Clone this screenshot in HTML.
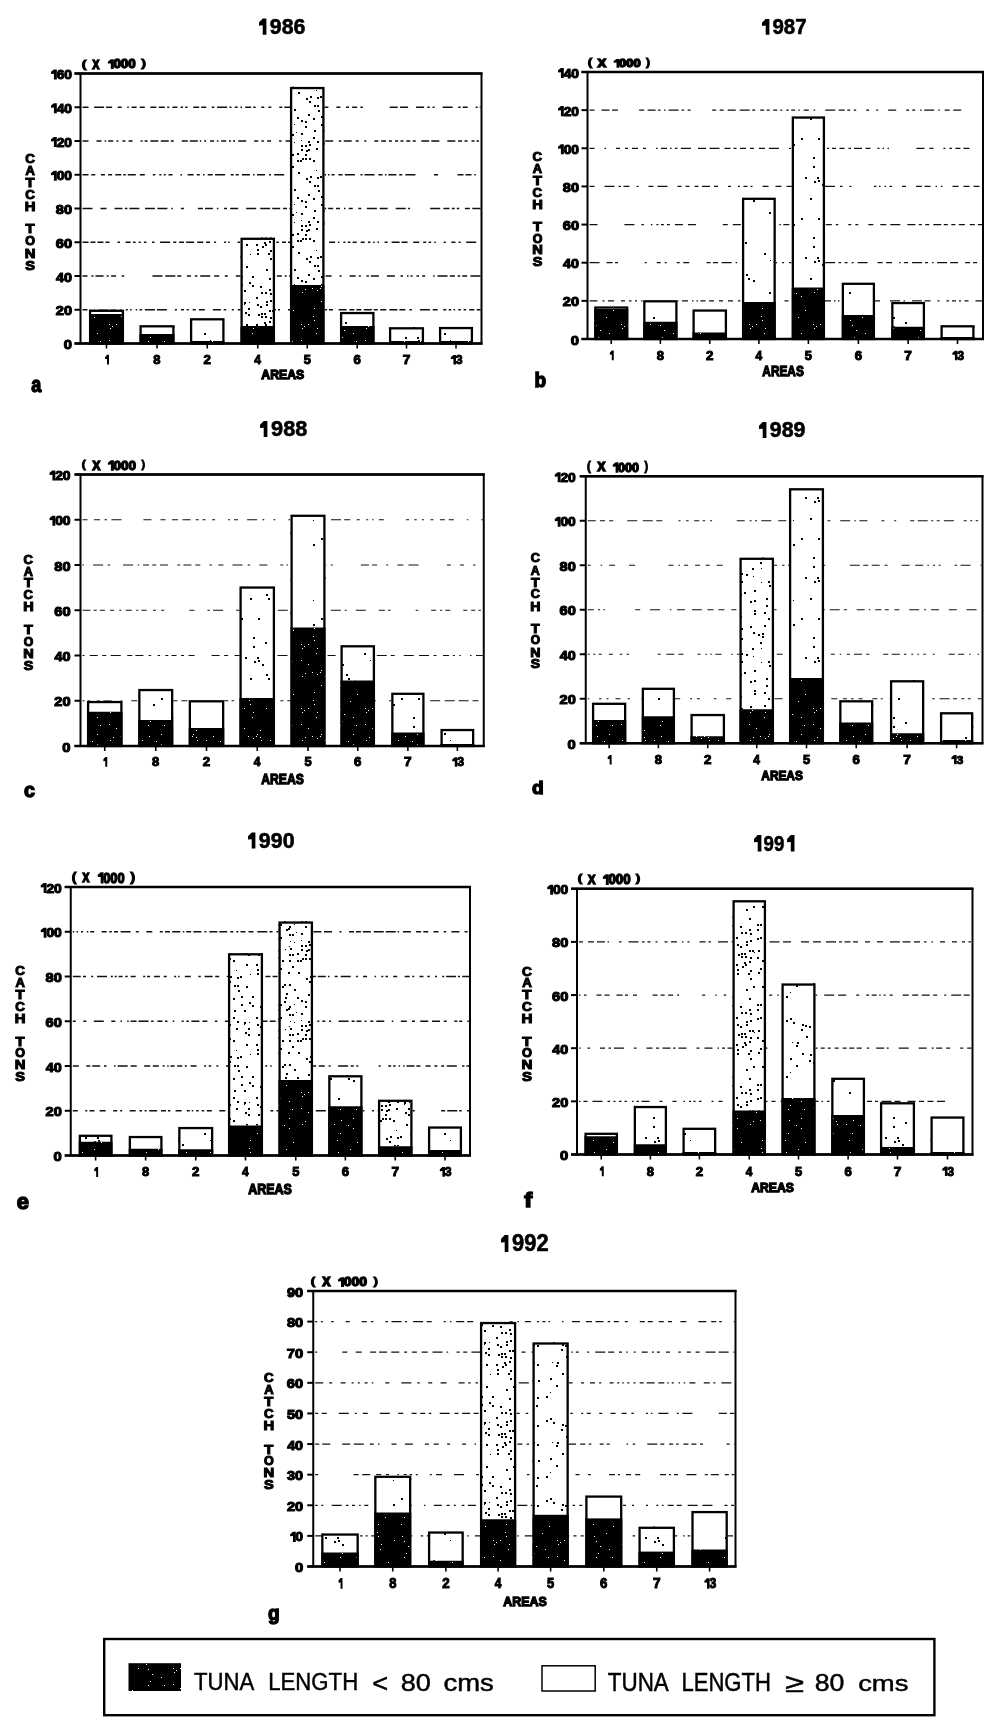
<!DOCTYPE html>
<html><head><meta charset="utf-8"><style>
html,body{margin:0;padding:0;background:#fff;}
svg{display:block;font-family:"Liberation Sans",sans-serif;filter:grayscale(1);}
</style></head><body>
<svg width="1000" height="1725" viewBox="0 0 1000 1725">
<defs><pattern id="sparse" width="80" height="80" patternUnits="userSpaceOnUse"><rect x="25" y="2" width="2" height="2" fill="#000"/><rect x="13" y="6" width="2" height="2" fill="#000"/><rect x="44" y="13" width="2" height="2" fill="#000"/><rect x="5" y="17" width="2" height="2" fill="#000"/><rect x="17" y="17" width="2" height="2" fill="#000"/><rect x="14" y="21" width="2" height="2" fill="#000"/><rect x="18" y="20" width="2" height="2" fill="#000"/><rect x="50" y="20" width="1" height="1" fill="#000"/><rect x="22" y="24" width="2" height="2" fill="#000"/><rect x="26" y="34" width="2" height="2" fill="#000"/><rect x="10" y="38" width="2" height="2" fill="#000"/><rect x="28" y="38" width="2" height="2" fill="#000"/><rect x="33" y="40" width="2" height="2" fill="#000"/><rect x="73" y="40" width="1" height="1" fill="#000"/><rect x="49" y="52" width="2" height="2" fill="#000"/><rect x="1" y="58" width="2" height="2" fill="#000"/><rect x="18" y="58" width="2" height="2" fill="#000"/><rect x="73" y="64" width="2" height="2" fill="#000"/><rect x="13" y="77" width="2" height="2" fill="#000"/></pattern><pattern id="medium" width="80" height="80" patternUnits="userSpaceOnUse"><rect x="40" y="2" width="2" height="2" fill="#000"/><rect x="53" y="2" width="2" height="2" fill="#000"/><rect x="72" y="2" width="1" height="1" fill="#000"/><rect x="77" y="2" width="2" height="2" fill="#000"/><rect x="57" y="4" width="2" height="2" fill="#000"/><rect x="76" y="5" width="2" height="2" fill="#000"/><rect x="32" y="8" width="2" height="2" fill="#000"/><rect x="41" y="8" width="1" height="1" fill="#000"/><rect x="2" y="13" width="2" height="2" fill="#000"/><rect x="10" y="14" width="2" height="2" fill="#000"/><rect x="17" y="13" width="2" height="2" fill="#000"/><rect x="21" y="13" width="2" height="2" fill="#000"/><rect x="26" y="14" width="2" height="2" fill="#000"/><rect x="33" y="16" width="1" height="1" fill="#000"/><rect x="70" y="18" width="2" height="2" fill="#000"/><rect x="9" y="20" width="2" height="2" fill="#000"/><rect x="13" y="22" width="2" height="2" fill="#000"/><rect x="21" y="21" width="2" height="2" fill="#000"/><rect x="41" y="22" width="1" height="1" fill="#000"/><rect x="48" y="21" width="2" height="2" fill="#000"/><rect x="52" y="20" width="2" height="2" fill="#000"/><rect x="58" y="20" width="2" height="2" fill="#000"/><rect x="49" y="25" width="2" height="2" fill="#000"/><rect x="76" y="25" width="2" height="2" fill="#000"/><rect x="34" y="30" width="2" height="2" fill="#000"/><rect x="20" y="34" width="2" height="2" fill="#000"/><rect x="24" y="32" width="2" height="2" fill="#000"/><rect x="70" y="32" width="1" height="1" fill="#000"/><rect x="46" y="38" width="2" height="2" fill="#000"/><rect x="57" y="37" width="2" height="2" fill="#000"/><rect x="66" y="36" width="2" height="2" fill="#000"/><rect x="30" y="41" width="2" height="2" fill="#000"/><rect x="34" y="40" width="2" height="2" fill="#000"/><rect x="46" y="45" width="2" height="2" fill="#000"/><rect x="56" y="45" width="2" height="2" fill="#000"/><rect x="34" y="50" width="2" height="2" fill="#000"/><rect x="34" y="53" width="2" height="2" fill="#000"/><rect x="44" y="52" width="2" height="2" fill="#000"/><rect x="16" y="57" width="2" height="2" fill="#000"/><rect x="20" y="56" width="2" height="2" fill="#000"/><rect x="48" y="58" width="2" height="2" fill="#000"/><rect x="70" y="58" width="2" height="2" fill="#000"/><rect x="66" y="60" width="2" height="2" fill="#000"/><rect x="73" y="62" width="2" height="2" fill="#000"/><rect x="2" y="64" width="2" height="2" fill="#000"/><rect x="5" y="65" width="2" height="2" fill="#000"/><rect x="9" y="66" width="2" height="2" fill="#000"/><rect x="30" y="66" width="2" height="2" fill="#000"/><rect x="44" y="65" width="2" height="2" fill="#000"/><rect x="54" y="65" width="1" height="1" fill="#000"/><rect x="57" y="65" width="2" height="2" fill="#000"/><rect x="1" y="69" width="2" height="2" fill="#000"/><rect x="21" y="68" width="2" height="2" fill="#000"/><rect x="33" y="72" width="2" height="2" fill="#000"/><rect x="38" y="74" width="2" height="2" fill="#000"/><rect x="42" y="73" width="2" height="2" fill="#000"/><rect x="6" y="76" width="2" height="2" fill="#000"/><rect x="17" y="76" width="2" height="2" fill="#000"/><rect x="21" y="78" width="2" height="2" fill="#000"/><rect x="42" y="76" width="2" height="2" fill="#000"/></pattern><pattern id="dense" width="80" height="80" patternUnits="userSpaceOnUse"><rect x="24" y="2" width="2" height="2" fill="#000"/><rect x="29" y="1" width="2" height="2" fill="#000"/><rect x="42" y="0" width="2" height="2" fill="#000"/><rect x="49" y="0" width="2" height="2" fill="#000"/><rect x="57" y="0" width="2" height="2" fill="#000"/><rect x="60" y="0" width="2" height="2" fill="#000"/><rect x="73" y="0" width="2" height="2" fill="#000"/><rect x="6" y="4" width="2" height="2" fill="#000"/><rect x="16" y="4" width="2" height="2" fill="#000"/><rect x="22" y="6" width="2" height="2" fill="#000"/><rect x="25" y="4" width="2" height="2" fill="#000"/><rect x="52" y="6" width="2" height="2" fill="#000"/><rect x="17" y="9" width="2" height="2" fill="#000"/><rect x="30" y="10" width="2" height="2" fill="#000"/><rect x="40" y="8" width="2" height="2" fill="#000"/><rect x="76" y="10" width="1" height="1" fill="#000"/><rect x="10" y="14" width="1" height="1" fill="#000"/><rect x="17" y="13" width="2" height="2" fill="#000"/><rect x="28" y="13" width="2" height="2" fill="#000"/><rect x="38" y="12" width="2" height="2" fill="#000"/><rect x="48" y="12" width="2" height="2" fill="#000"/><rect x="58" y="12" width="2" height="2" fill="#000"/><rect x="0" y="16" width="2" height="2" fill="#000"/><rect x="30" y="18" width="2" height="2" fill="#000"/><rect x="66" y="18" width="2" height="2" fill="#000"/><rect x="70" y="16" width="2" height="2" fill="#000"/><rect x="77" y="17" width="2" height="2" fill="#000"/><rect x="69" y="21" width="2" height="2" fill="#000"/><rect x="6" y="26" width="2" height="2" fill="#000"/><rect x="33" y="26" width="2" height="2" fill="#000"/><rect x="42" y="26" width="2" height="2" fill="#000"/><rect x="44" y="24" width="2" height="2" fill="#000"/><rect x="49" y="24" width="2" height="2" fill="#000"/><rect x="74" y="25" width="2" height="2" fill="#000"/><rect x="77" y="25" width="2" height="2" fill="#000"/><rect x="26" y="29" width="2" height="2" fill="#000"/><rect x="54" y="29" width="2" height="2" fill="#000"/><rect x="78" y="30" width="2" height="2" fill="#000"/><rect x="46" y="33" width="2" height="2" fill="#000"/><rect x="68" y="34" width="2" height="2" fill="#000"/><rect x="1" y="36" width="2" height="2" fill="#000"/><rect x="12" y="36" width="2" height="2" fill="#000"/><rect x="29" y="38" width="2" height="2" fill="#000"/><rect x="45" y="37" width="2" height="2" fill="#000"/><rect x="57" y="37" width="2" height="2" fill="#000"/><rect x="73" y="38" width="2" height="2" fill="#000"/><rect x="9" y="42" width="2" height="2" fill="#000"/><rect x="44" y="41" width="2" height="2" fill="#000"/><rect x="61" y="40" width="2" height="2" fill="#000"/><rect x="65" y="41" width="2" height="2" fill="#000"/><rect x="1" y="44" width="2" height="2" fill="#000"/><rect x="12" y="45" width="2" height="2" fill="#000"/><rect x="20" y="46" width="2" height="2" fill="#000"/><rect x="37" y="44" width="2" height="2" fill="#000"/><rect x="40" y="44" width="2" height="2" fill="#000"/><rect x="49" y="46" width="2" height="2" fill="#000"/><rect x="54" y="44" width="1" height="1" fill="#000"/><rect x="65" y="46" width="2" height="2" fill="#000"/><rect x="4" y="50" width="2" height="2" fill="#000"/><rect x="29" y="49" width="2" height="2" fill="#000"/><rect x="37" y="49" width="2" height="2" fill="#000"/><rect x="46" y="49" width="2" height="2" fill="#000"/><rect x="48" y="48" width="2" height="2" fill="#000"/><rect x="74" y="50" width="2" height="2" fill="#000"/><rect x="21" y="52" width="2" height="2" fill="#000"/><rect x="25" y="52" width="2" height="2" fill="#000"/><rect x="30" y="53" width="2" height="2" fill="#000"/><rect x="49" y="54" width="2" height="2" fill="#000"/><rect x="52" y="54" width="2" height="2" fill="#000"/><rect x="56" y="52" width="1" height="1" fill="#000"/><rect x="61" y="53" width="2" height="2" fill="#000"/><rect x="16" y="57" width="2" height="2" fill="#000"/><rect x="37" y="58" width="2" height="2" fill="#000"/><rect x="40" y="57" width="2" height="2" fill="#000"/><rect x="73" y="57" width="2" height="2" fill="#000"/><rect x="4" y="62" width="2" height="2" fill="#000"/><rect x="9" y="62" width="1" height="1" fill="#000"/><rect x="26" y="61" width="2" height="2" fill="#000"/><rect x="30" y="60" width="2" height="2" fill="#000"/><rect x="50" y="61" width="1" height="1" fill="#000"/><rect x="54" y="62" width="1" height="1" fill="#000"/><rect x="61" y="60" width="1" height="1" fill="#000"/><rect x="68" y="61" width="2" height="2" fill="#000"/><rect x="77" y="61" width="2" height="2" fill="#000"/><rect x="4" y="64" width="1" height="1" fill="#000"/><rect x="17" y="64" width="2" height="2" fill="#000"/><rect x="20" y="66" width="2" height="2" fill="#000"/><rect x="26" y="64" width="2" height="2" fill="#000"/><rect x="49" y="66" width="1" height="1" fill="#000"/><rect x="61" y="65" width="2" height="2" fill="#000"/><rect x="65" y="65" width="2" height="2" fill="#000"/><rect x="69" y="64" width="2" height="2" fill="#000"/><rect x="8" y="68" width="2" height="2" fill="#000"/><rect x="29" y="70" width="2" height="2" fill="#000"/><rect x="32" y="70" width="2" height="2" fill="#000"/><rect x="38" y="70" width="2" height="2" fill="#000"/><rect x="45" y="69" width="1" height="1" fill="#000"/><rect x="50" y="68" width="2" height="2" fill="#000"/><rect x="61" y="69" width="2" height="2" fill="#000"/><rect x="66" y="70" width="2" height="2" fill="#000"/><rect x="68" y="69" width="2" height="2" fill="#000"/><rect x="76" y="68" width="2" height="2" fill="#000"/><rect x="5" y="72" width="2" height="2" fill="#000"/><rect x="8" y="74" width="2" height="2" fill="#000"/><rect x="18" y="74" width="2" height="2" fill="#000"/><rect x="21" y="73" width="2" height="2" fill="#000"/><rect x="24" y="73" width="2" height="2" fill="#000"/><rect x="34" y="72" width="1" height="1" fill="#000"/><rect x="49" y="74" width="2" height="2" fill="#000"/><rect x="52" y="74" width="2" height="2" fill="#000"/><rect x="57" y="73" width="2" height="2" fill="#000"/><rect x="65" y="74" width="2" height="2" fill="#000"/><rect x="21" y="76" width="2" height="2" fill="#000"/><rect x="25" y="76" width="2" height="2" fill="#000"/><rect x="30" y="77" width="2" height="2" fill="#000"/><rect x="37" y="77" width="2" height="2" fill="#000"/><rect x="62" y="78" width="2" height="2" fill="#000"/><rect x="65" y="78" width="2" height="2" fill="#000"/><rect x="69" y="78" width="2" height="2" fill="#000"/></pattern><pattern id="dark" width="64" height="64" patternUnits="userSpaceOnUse"><rect width="64" height="64" fill="#000"/><rect x="18" y="0" width="1" height="1" fill="#fff"/><rect x="58" y="0" width="1" height="1" fill="#fff"/><rect x="10" y="4" width="1" height="1" fill="#fff"/><rect x="20" y="5" width="1" height="1" fill="#fff"/><rect x="45" y="4" width="1" height="1" fill="#fff"/><rect x="48" y="6" width="1" height="1" fill="#fff"/><rect x="52" y="4" width="1" height="1" fill="#fff"/><rect x="24" y="10" width="1" height="1" fill="#fff"/><rect x="46" y="8" width="1" height="1" fill="#fff"/><rect x="61" y="8" width="1" height="1" fill="#fff"/><rect x="33" y="13" width="1" height="1" fill="#fff"/><rect x="60" y="13" width="1" height="1" fill="#fff"/><rect x="22" y="17" width="1" height="1" fill="#fff"/><rect x="20" y="21" width="1" height="1" fill="#fff"/><rect x="36" y="21" width="1" height="1" fill="#fff"/><rect x="45" y="20" width="1" height="1" fill="#fff"/><rect x="4" y="26" width="1" height="1" fill="#fff"/><rect x="52" y="24" width="1" height="1" fill="#fff"/><rect x="1" y="30" width="1" height="1" fill="#fff"/><rect x="33" y="30" width="1" height="1" fill="#fff"/><rect x="0" y="32" width="1" height="1" fill="#fff"/><rect x="4" y="33" width="1" height="1" fill="#fff"/><rect x="21" y="32" width="1" height="1" fill="#fff"/><rect x="49" y="33" width="1" height="1" fill="#fff"/><rect x="56" y="32" width="1" height="1" fill="#fff"/><rect x="61" y="34" width="1" height="1" fill="#fff"/><rect x="5" y="36" width="1" height="1" fill="#fff"/><rect x="14" y="36" width="1" height="1" fill="#fff"/><rect x="28" y="37" width="1" height="1" fill="#fff"/><rect x="46" y="36" width="1" height="1" fill="#fff"/><rect x="33" y="40" width="1" height="1" fill="#fff"/><rect x="1" y="45" width="1" height="1" fill="#fff"/><rect x="20" y="45" width="1" height="1" fill="#fff"/><rect x="17" y="52" width="1" height="1" fill="#fff"/><rect x="37" y="54" width="1" height="1" fill="#fff"/><rect x="58" y="52" width="1" height="1" fill="#fff"/><rect x="30" y="61" width="1" height="1" fill="#fff"/><rect x="57" y="60" width="1" height="1" fill="#fff"/></pattern></defs>
<rect width="1000" height="1725" fill="#fff"/>
<line x1="82.5" y1="309.75" x2="480.5" y2="309.75" stroke="#111" stroke-width="1.4" stroke-dasharray="5 2.4 1.5 2.0 2 2.8 10 2.4 6 3.2 2 4.0 2 2.4 1.5 4.0 1.5 2.4 2.5 2.8 10 2.0 10 8.0 2 4.0 3 2.8 2 4.0 3 3.2 6 8.0 8 2.8 2.5 5.6 2 4.0 8 2.8 4 4.0 2 4.0 5 2.4 6 2.0 2 8.0 5 2.8 8 4.0 2 8.0 4 3.2 2 2.0 4 5.6 8 2.8 5 2.0 5 2.4 8 2.0 4 2.4 6 3.2 8 2.0 6 4.0 2.5 8.0 10 2.8 5 5.6 3 2.4 2.5 2.4 1.5 3.2 2.5 2.8 2.5 3.2 5 2.4 10 4.0 1.5 3.2 10 3.2 6 2.0 6 2.0 3 3.2 5 4.0 1.5 4.0 2 2.8 2 8.0 6 2.4"/>
<line x1="82.5" y1="276.00" x2="480.5" y2="276.00" stroke="#111" stroke-width="1.4" stroke-dasharray="5 4.0 2 2.0 8 3.2 2 2.4 5 5.6 2.5 28.3 10 2.8 10 2.0 4 5.6 4 4.0 2.5 2.8 10 4.0 5 5.6 3 8.0 6 5.6 3 4.0 1.5 2.0 8 2.8 5 3.2 5 2.8 2 2.4 5 2.4 1.5 3.2 5 8.0 2 3.2 3 3.2 6 8.0 2 8.0 6 3.2 2 5.6 2.5 2.0 8 8.0 8 5.6 2.5 4.0 1.5 2.0 2 4.0 2.5 3.2 3 8.0 1.5 2.8 10 2.4 5 2.8 2.5 2.0 5 3.2 10 3.2 10 2.4 10 20.6 2.5 26.0 2.5 2.4 2 4.0 10 4.0 2 4.0 3 2.8 2 4.0 1.5 8.0 2 3.2 10 4.0 4 3.2 8 4.0 10 2.8 3 8.0"/>
<line x1="82.5" y1="242.25" x2="480.5" y2="242.25" stroke="#111" stroke-width="1.4" stroke-dasharray="6 2.0 5 2.0 6 2.0 4 8.0 2.5 5.6 5 2.4 2.5 3.2 2 3.2 2.5 5.6 2.5 5.6 10 3.2 3 2.8 5 2.0 8 3.2 6 2.8 4 4.0 2 8.0 2 2.0 1.5 8.0 2.5 8.0 4 3.2 10 4.0 5 2.0 2.5 3.2 4 2.0 4 2.0 3 2.0 2 28.1 6 2.8 1.5 4.0 2 2.4 2.5 2.4 4 4.0 4 3.2 2.5 2.8 1.5 2.8 1.5 5.6 3 4.0 8 2.0 6 5.6 6 4.0 3 2.4 2.5 3.2 1.5 8.0 2 5.6 4 3.2 2 5.6 10 5.6 3 5.6 8 2.4 8 2.0 5 4.0 1.5 2.8 2.5 2.0 2 3.2 3 2.4 1.5 2.0 2 2.4 1.5 17.8 3 2.0"/>
<line x1="82.5" y1="208.50" x2="480.5" y2="208.50" stroke="#111" stroke-width="1.4" stroke-dasharray="10 8.0 6 8.0 8 2.4 2.5 2.0 10 5.6 10 2.4 10 4.0 1.5 8.0 3 14.0 5 2.0 8 4.0 1.5 5.6 3 3.2 8 8.0 10 4.0 10 2.0 8 2.8 4 2.4 3 2.4 8 3.2 2 3.2 4 8.0 3 2.0 5 2.8 4 4.0 1.5 3.2 4 5.6 3 5.6 10 2.8 8 8.0 10 2.4 2 20.1 10 3.2 6 2.4 3 2.0 2.5 5.6 5 2.4 10 2.8 5 2.4 8 13.3 8 5.6 4 5.6 5 3.2 5 2.0 5 8.0 3 26.7 4 2.8 6 8.0 5 3.2 1.5 2.8 4 5.6 3 2.8 5 2.4 6 2.0 6 4.0 2 2.0 6 3.2 2.5 5.6 8 2.0 10 2.4"/>
<line x1="82.5" y1="174.75" x2="480.5" y2="174.75" stroke="#111" stroke-width="1.4" stroke-dasharray="6 2.8 4 5.6 4 3.2 4 3.2 6 2.0 2.5 2.0 8 4.0 5 8.0 2.5 4.0 2 2.4 2 2.8 4 8.0 1.5 5.6 6 3.2 3 3.2 1.5 3.2 5 2.4 10 5.6 3 2.0 3 3.2 8 3.2 1.5 2.4 8 4.0 2 3.2 10 8.0 8 2.4 3 2.4 2 8.0 8 2.0 1.5 2.0 3 4.0 4 2.4 10 5.6 2 2.0 10 4.0 4 2.4 1.5 2.0 8 2.8 3 3.2 10 18.6 4 19.5 6 2.0 6 2.8 1.5 5.6 6 2.8 3 2.0 10 2.0 3 2.8 3 2.4 4 8.0 2 4.0 2.5 2.4 1.5 4.0 6 2.0 2.5 3.2 1.5 2.4 5 5.6 2 2.4 2.5 5.6 8 2.0"/>
<line x1="82.5" y1="141.00" x2="480.5" y2="141.00" stroke="#111" stroke-width="1.4" stroke-dasharray="6 8.0 5 3.2 1.5 2.0 5 3.2 2 4.0 3 3.2 4 8.0 2 2.0 3 2.8 8 2.4 8 2.0 3 8.0 6 2.0 8 2.0 1.5 2.8 2 4.0 4 2.8 1.5 2.8 5 2.8 2 2.0 2 3.2 8 8.0 4 3.2 2.5 3.2 4 8.0 2.5 4.0 5 3.2 2 4.0 2.5 2.4 1.5 3.2 5 2.4 2 2.0 2 2.4 8 5.6 2.5 2.4 8 4.0 3 5.6 2 8.0 4 2.8 5 2.8 3 3.2 3 2.4 3 2.8 4 2.4 3 5.6 8 2.0 8 8.0 8 2.8 4 2.4 3 4.0 3 2.0 2.5 3.2 1.5 2.0 5 2.4 5 2.4 4 2.0 3 22.9 5 2.4 2 19.8 8 2.0"/>
<line x1="82.5" y1="107.25" x2="480.5" y2="107.25" stroke="#111" stroke-width="1.4" stroke-dasharray="6 5.6 10 2.0 6 5.6 4 5.6 1.5 2.8 5 3.2 5 5.6 6 2.4 6 2.4 2 3.2 5 3.2 2.5 2.0 2.5 5.6 6 2.0 5 5.6 2.5 2.8 10 2.4 2 3.2 3 2.8 1.5 3.2 6 2.0 2.5 5.6 3 4.0 3 8.0 3 2.0 10 2.4 2 2.4 3 2.0 1.5 5.6 2 3.2 10 8.0 4 5.6 3 3.2 5 3.2 2.5 26.8 8 2.4 8 8.0 8 3.2 2.5 2.8 2 8.0 10 5.6 2.5 2.0 5 8.0 2 2.0 6 5.6 2.5 2.0 2 2.4 8 2.8 2.5 5.6 3 2.0 4 2.4 4 8.0 4 4.0 8 2.4 10 2.4 1.5 2.4 2.5 5.6 5 3.2 4 2.0 1.5 5.6"/>
<rect x="89.00" y="309.50" width="35.00" height="34.00" fill="#fff"/>
<rect x="89.00" y="309.50" width="35.00" height="4.50" fill="url(#sparse)"/>
<rect x="89.00" y="314.00" width="35.00" height="29.50" fill="url(#dark)"/>
<rect x="90.10" y="310.80" width="32.80" height="32.70" fill="none" stroke="#000" stroke-width="2.3"/>
<rect x="139.50" y="325.00" width="35.00" height="18.50" fill="#fff"/>
<rect x="139.50" y="325.00" width="35.00" height="9.00" fill="url(#sparse)"/>
<rect x="139.50" y="334.00" width="35.00" height="9.50" fill="url(#dark)"/>
<rect x="140.60" y="326.30" width="32.80" height="17.20" fill="none" stroke="#000" stroke-width="2.3"/>
<rect x="190.00" y="318.00" width="34.50" height="25.50" fill="#fff"/>
<rect x="190.00" y="318.00" width="34.50" height="23.00" fill="url(#sparse)"/>
<rect x="190.00" y="341.00" width="34.50" height="2.50" fill="url(#dark)"/>
<rect x="191.10" y="319.30" width="32.30" height="24.20" fill="none" stroke="#000" stroke-width="2.3"/>
<rect x="240.50" y="237.50" width="34.50" height="106.00" fill="#fff"/>
<rect x="240.50" y="237.50" width="34.50" height="88.50" fill="url(#dense)"/>
<rect x="240.50" y="326.00" width="34.50" height="17.50" fill="url(#dark)"/>
<rect x="241.60" y="238.80" width="32.30" height="104.70" fill="none" stroke="#000" stroke-width="2.3"/>
<rect x="290.00" y="86.75" width="34.50" height="256.75" fill="#fff"/>
<rect x="290.00" y="86.75" width="34.50" height="198.25" fill="url(#dense)"/>
<rect x="290.00" y="285.00" width="34.50" height="58.50" fill="url(#dark)"/>
<rect x="291.10" y="88.05" width="32.30" height="255.45" fill="none" stroke="#000" stroke-width="2.3"/>
<rect x="340.00" y="311.75" width="34.50" height="31.75" fill="#fff"/>
<rect x="340.00" y="311.75" width="34.50" height="14.25" fill="url(#sparse)"/>
<rect x="340.00" y="326.00" width="34.50" height="17.50" fill="url(#dark)"/>
<rect x="341.10" y="313.05" width="32.30" height="30.45" fill="none" stroke="#000" stroke-width="2.3"/>
<rect x="389.00" y="327.00" width="35.00" height="16.50" fill="#fff"/>
<rect x="389.00" y="327.00" width="35.00" height="14.00" fill="url(#sparse)"/>
<rect x="389.00" y="341.00" width="35.00" height="2.50" fill="url(#dark)"/>
<rect x="390.10" y="328.30" width="32.80" height="15.20" fill="none" stroke="#000" stroke-width="2.3"/>
<rect x="439.00" y="326.75" width="34.00" height="16.75" fill="#fff"/>
<rect x="439.00" y="326.75" width="34.00" height="14.25" fill="url(#sparse)"/>
<rect x="439.00" y="341.00" width="34.00" height="2.50" fill="url(#dark)"/>
<rect x="440.10" y="328.05" width="31.80" height="15.45" fill="none" stroke="#000" stroke-width="2.3"/>
<rect x="80.50" y="73.50" width="401.00" height="270.00" fill="none" stroke="#000" stroke-width="2"/>
<line x1="74.50" y1="343.50" x2="482.50" y2="343.50" stroke="#000" stroke-width="2.6"/>
<line x1="74.50" y1="73.50" x2="482.50" y2="73.50" stroke="#000" stroke-width="2.6"/>
<line x1="74.50" y1="343.50" x2="80.50" y2="343.50" stroke="#000" stroke-width="2"/>
<text x="63.87" y="349.02" font-size="13.14" font-weight="bold" textLength="8.19" lengthAdjust="spacingAndGlyphs" fill="#000" stroke="#000" stroke-width="1.1" >0</text>
<line x1="74.50" y1="309.75" x2="80.50" y2="309.75" stroke="#000" stroke-width="2"/>
<text x="55.85" y="315.27" font-size="13.14" font-weight="bold" textLength="16.20" lengthAdjust="spacingAndGlyphs" fill="#000" stroke="#000" stroke-width="1.1" >20</text>
<line x1="74.50" y1="276.00" x2="80.50" y2="276.00" stroke="#000" stroke-width="2"/>
<text x="56.13" y="281.52" font-size="13.14" font-weight="bold" textLength="15.90" lengthAdjust="spacingAndGlyphs" fill="#000" stroke="#000" stroke-width="1.1" >40</text>
<line x1="74.50" y1="242.25" x2="80.50" y2="242.25" stroke="#000" stroke-width="2"/>
<text x="55.82" y="247.77" font-size="13.14" font-weight="bold" textLength="16.23" lengthAdjust="spacingAndGlyphs" fill="#000" stroke="#000" stroke-width="1.1" >60</text>
<line x1="74.50" y1="208.50" x2="80.50" y2="208.50" stroke="#000" stroke-width="2"/>
<text x="55.89" y="214.02" font-size="13.14" font-weight="bold" textLength="16.16" lengthAdjust="spacingAndGlyphs" fill="#000" stroke="#000" stroke-width="1.1" >80</text>
<line x1="74.50" y1="174.75" x2="80.50" y2="174.75" stroke="#000" stroke-width="2"/>
<path d="M53.92,170.68 L56.82,170.68 L56.82,180.82 L53.92,180.82 L53.92,174.94 L51.03,175.14 L51.03,173.12 Z" fill="#000"/>
<text x="56.66" y="180.27" font-size="13.14" font-weight="bold" textLength="7.68" lengthAdjust="spacingAndGlyphs" fill="#000" stroke="#000" stroke-width="1.1">0</text>
<text x="64.34" y="180.27" font-size="13.14" font-weight="bold" textLength="7.68" lengthAdjust="spacingAndGlyphs" fill="#000" stroke="#000" stroke-width="1.1">0</text>
<line x1="74.50" y1="141.00" x2="80.50" y2="141.00" stroke="#000" stroke-width="2"/>
<path d="M53.92,136.93 L56.82,136.93 L56.82,147.07 L53.92,147.07 L53.92,141.19 L51.03,141.39 L51.03,139.37 Z" fill="#000"/>
<text x="56.66" y="146.52" font-size="13.14" font-weight="bold" textLength="7.68" lengthAdjust="spacingAndGlyphs" fill="#000" stroke="#000" stroke-width="1.1">2</text>
<text x="64.34" y="146.52" font-size="13.14" font-weight="bold" textLength="7.68" lengthAdjust="spacingAndGlyphs" fill="#000" stroke="#000" stroke-width="1.1">0</text>
<line x1="74.50" y1="107.25" x2="80.50" y2="107.25" stroke="#000" stroke-width="2"/>
<path d="M53.92,103.18 L56.82,103.18 L56.82,113.32 L53.92,113.32 L53.92,107.44 L51.03,107.64 L51.03,105.62 Z" fill="#000"/>
<text x="56.66" y="112.77" font-size="13.14" font-weight="bold" textLength="7.68" lengthAdjust="spacingAndGlyphs" fill="#000" stroke="#000" stroke-width="1.1">4</text>
<text x="64.34" y="112.77" font-size="13.14" font-weight="bold" textLength="7.68" lengthAdjust="spacingAndGlyphs" fill="#000" stroke="#000" stroke-width="1.1">0</text>
<line x1="74.50" y1="73.50" x2="80.50" y2="73.50" stroke="#000" stroke-width="2"/>
<path d="M53.92,69.43 L56.82,69.43 L56.82,79.57 L53.92,79.57 L53.92,73.69 L51.03,73.89 L51.03,71.87 Z" fill="#000"/>
<text x="56.66" y="79.02" font-size="13.14" font-weight="bold" textLength="7.68" lengthAdjust="spacingAndGlyphs" fill="#000" stroke="#000" stroke-width="1.1">6</text>
<text x="64.34" y="79.02" font-size="13.14" font-weight="bold" textLength="7.68" lengthAdjust="spacingAndGlyphs" fill="#000" stroke="#000" stroke-width="1.1">0</text>
<line x1="106.50" y1="343.50" x2="106.50" y2="348.50" stroke="#000" stroke-width="1.6"/>
<path d="M107.04,354.80 L109.00,354.80 L109.00,364.60 L107.04,364.60 L107.04,358.92 L105.07,359.11 L105.07,357.15 Z" fill="#000"/>
<line x1="157.00" y1="343.50" x2="157.00" y2="348.50" stroke="#000" stroke-width="1.6"/>
<text x="153.39" y="363.98" font-size="12.43" font-weight="bold" textLength="7.21" lengthAdjust="spacingAndGlyphs" fill="#000" stroke="#000" stroke-width="1.0" >8</text>
<line x1="207.25" y1="343.50" x2="207.25" y2="348.50" stroke="#000" stroke-width="1.6"/>
<text x="203.59" y="364.10" font-size="12.60" font-weight="bold" textLength="7.39" lengthAdjust="spacingAndGlyphs" fill="#000" stroke="#000" stroke-width="1.0" >2</text>
<line x1="257.75" y1="343.50" x2="257.75" y2="348.50" stroke="#000" stroke-width="1.6"/>
<text x="254.37" y="364.10" font-size="12.79" font-weight="bold" textLength="6.65" lengthAdjust="spacingAndGlyphs" fill="#000" stroke="#000" stroke-width="1.0" >4</text>
<line x1="307.25" y1="343.50" x2="307.25" y2="348.50" stroke="#000" stroke-width="1.6"/>
<text x="303.65" y="363.98" font-size="12.61" font-weight="bold" textLength="7.15" lengthAdjust="spacingAndGlyphs" fill="#000" stroke="#000" stroke-width="1.0" >5</text>
<line x1="357.25" y1="343.50" x2="357.25" y2="348.50" stroke="#000" stroke-width="1.6"/>
<text x="353.57" y="363.98" font-size="12.43" font-weight="bold" textLength="7.36" lengthAdjust="spacingAndGlyphs" fill="#000" stroke="#000" stroke-width="1.0" >6</text>
<line x1="406.50" y1="343.50" x2="406.50" y2="348.50" stroke="#000" stroke-width="1.6"/>
<text x="402.71" y="364.10" font-size="12.79" font-weight="bold" textLength="7.59" lengthAdjust="spacingAndGlyphs" fill="#000" stroke="#000" stroke-width="1.0" >7</text>
<line x1="456.00" y1="343.50" x2="456.00" y2="348.50" stroke="#000" stroke-width="1.6"/>
<path d="M453.41,354.93 L455.99,354.93 L455.99,364.46 L453.41,364.46 L453.41,358.93 L450.83,359.12 L450.83,357.22 Z" fill="#000"/>
<text x="455.84" y="363.96" font-size="12.40" font-weight="bold" textLength="6.81" lengthAdjust="spacingAndGlyphs" fill="#000" stroke="#000" stroke-width="1.0">3</text>
<path d="M262.70,18.50 L266.40,18.50 L266.40,34.75 L262.70,34.75 L262.70,25.32 L259.00,25.65 L259.00,22.40 Z" fill="#000"/>
<text x="269.83" y="34.23" font-size="22.10" font-weight="bold" textLength="11.88" lengthAdjust="spacingAndGlyphs" fill="#000" stroke="#000" stroke-width="0.6">9</text>
<text x="281.71" y="34.23" font-size="22.10" font-weight="bold" textLength="11.88" lengthAdjust="spacingAndGlyphs" fill="#000" stroke="#000" stroke-width="0.6">8</text>
<text x="293.59" y="34.23" font-size="22.10" font-weight="bold" textLength="11.88" lengthAdjust="spacingAndGlyphs" fill="#000" stroke="#000" stroke-width="0.6">6</text>
<text x="81.79" y="67.78" font-size="11.16" font-weight="bold" textLength="4.72" lengthAdjust="spacingAndGlyphs" fill="#000" stroke="#000" stroke-width="1.0" >(</text>
<text x="92.51" y="68.80" font-size="12.79" font-weight="bold" textLength="6.78" lengthAdjust="spacingAndGlyphs" fill="#000" stroke="#000" stroke-width="1.6" >X</text>
<path d="M110.82,59.32 L113.78,59.32 L113.78,69.08 L110.82,69.08 L110.82,63.42 L107.86,63.62 L107.86,61.67 Z" fill="#000"/>
<text x="113.46" y="68.38" font-size="12.15" font-weight="bold" textLength="7.40" lengthAdjust="spacingAndGlyphs" fill="#000" stroke="#000" stroke-width="1.4">0</text>
<text x="120.85" y="68.38" font-size="12.15" font-weight="bold" textLength="7.40" lengthAdjust="spacingAndGlyphs" fill="#000" stroke="#000" stroke-width="1.4">0</text>
<text x="128.25" y="68.38" font-size="12.15" font-weight="bold" textLength="7.40" lengthAdjust="spacingAndGlyphs" fill="#000" stroke="#000" stroke-width="1.4">0</text>
<text x="141.29" y="66.74" font-size="11.37" font-weight="bold" textLength="4.72" lengthAdjust="spacingAndGlyphs" fill="#000" stroke="#000" stroke-width="1.0" >)</text>
<text x="31.17" y="392.09" font-size="21.17" font-weight="bold" textLength="10.01" lengthAdjust="spacingAndGlyphs" fill="#000" stroke="#000" stroke-width="1.4" >a</text>
<text x="261.34" y="379.12" font-size="13.14" font-weight="bold" textLength="42.99" lengthAdjust="spacingAndGlyphs" fill="#000" stroke="#000" stroke-width="1.3" >AREAS</text>
<text x="25.20" y="162.52" font-size="12.85" font-weight="bold" textLength="9.61" lengthAdjust="spacingAndGlyphs" fill="#000" stroke="#000" stroke-width="1.1" >C</text>
<text x="25.43" y="174.75" font-size="13.23" font-weight="bold" textLength="9.36" lengthAdjust="spacingAndGlyphs" fill="#000" stroke="#000" stroke-width="1.1" >A</text>
<text x="25.58" y="186.85" font-size="13.23" font-weight="bold" textLength="9.02" lengthAdjust="spacingAndGlyphs" fill="#000" stroke="#000" stroke-width="1.1" >T</text>
<text x="25.20" y="198.82" font-size="12.85" font-weight="bold" textLength="9.61" lengthAdjust="spacingAndGlyphs" fill="#000" stroke="#000" stroke-width="1.1" >C</text>
<text x="24.76" y="211.05" font-size="13.23" font-weight="bold" textLength="10.69" lengthAdjust="spacingAndGlyphs" fill="#000" stroke="#000" stroke-width="1.1" >H</text>
<text x="25.58" y="233.15" font-size="13.23" font-weight="bold" textLength="9.02" lengthAdjust="spacingAndGlyphs" fill="#000" stroke="#000" stroke-width="1.1" >T</text>
<text x="25.24" y="245.32" font-size="12.85" font-weight="bold" textLength="9.74" lengthAdjust="spacingAndGlyphs" fill="#000" stroke="#000" stroke-width="1.1" >O</text>
<text x="24.76" y="257.75" font-size="13.23" font-weight="bold" textLength="10.69" lengthAdjust="spacingAndGlyphs" fill="#000" stroke="#000" stroke-width="1.1" >N</text>
<text x="25.33" y="269.92" font-size="12.85" font-weight="bold" textLength="9.69" lengthAdjust="spacingAndGlyphs" fill="#000" stroke="#000" stroke-width="1.1" >S</text>
<line x1="589.5" y1="300.86" x2="982.0" y2="300.86" stroke="#111" stroke-width="1.3" stroke-dasharray="8 5.0 2 3.5 6 7.0 4 4.0 2.5 3.5 2 4.0 1.5 3.5 4 3.5 5 17.5 2.5 3.5 6 4.0 1.5 3.0 1.5 2.5 5 3.5 5 5.0 4 5.0 5 5.0 2.5 25.0 2.5 4.0 2.5 10.0 4 4.0 1.5 2.5 10 3.5 8 5.0 8 3.0 1.5 2.5 1.5 4.0 2.5 2.5 2 2.5 3 3.0 10 5.0 6 10.0 10 3.5 1.5 7.0 10 2.5 6 7.0 2 7.0 2.5 3.0 4 3.0 2 3.5 4 7.0 10 7.0 10 3.5 3 2.5 1.5 3.0 3 10.0 2.5 7.0 3 4.0 3 4.0 10 4.0 10 17.4 3 5.0 3 4.0 2 5.0 2.5 14.1 2.5 3.5 1.5 2.5 1.5 7.0 1.5 2.5 5 3.0"/>
<line x1="589.5" y1="262.71" x2="982.0" y2="262.71" stroke="#111" stroke-width="1.3" stroke-dasharray="10 7.0 6 2.5 3 26.7 2 10.0 4 4.0 2 10.0 3 3.5 6 17.4 4 2.5 5 3.5 10 4.0 1.5 10.0 6 5.0 5 4.0 10 5.0 2 5.0 2.5 17.0 1.5 2.5 2 4.0 2.5 4.0 10 3.5 2.5 3.5 3 4.0 2 4.0 10 10.0 5 3.5 6 7.0 1.5 3.5 4 4.0 10 3.0 3 4.0 1.5 3.5 10 3.0 8 7.0 5 3.0 4 5.0 5 4.0 3 5.0 4 10.0 2.5 7.0 3 7.0 10 3.5 5 3.0 2 3.0 2 3.0 2.5 10.0 4 4.0 2 7.0 4 3.0 8 25.3 6 7.0 4 17.9 6 2.5 6 7.0 6 10.0 3 7.0 2 4.0 4 7.0 6 3.0 2.5 3.5"/>
<line x1="589.5" y1="224.57" x2="982.0" y2="224.57" stroke="#111" stroke-width="1.3" stroke-dasharray="8 26.9 10 7.0 2.5 7.0 1.5 4.0 2 2.5 3 3.0 3 5.0 8 5.0 8 26.9 5 5.0 8 3.0 2.5 4.0 2 7.0 5 7.0 4 4.0 1.5 2.5 6 7.0 5 5.0 3 3.5 10 3.0 6 4.0 2.5 10.0 3 4.0 3 10.0 5 7.0 6 4.0 10 7.0 8 3.5 3 3.5 4 4.0 8 2.5 4 3.5 4 3.5 6 5.0 5 3.0 6 2.5 5 10.0 10 10.0 1.5 31.3 4 3.5 2.5 10.0 8 3.5 3 4.0 2.5 5.0 2 7.0 10 10.0 4 3.0 3 5.0 8 7.0 10 2.5 3 10.0 8 5.0 8 3.0 3 4.0 1.5 3.0 8 7.0 4 10.0 6 4.0 2 3.0 1.5 2.5"/>
<line x1="589.5" y1="186.43" x2="982.0" y2="186.43" stroke="#111" stroke-width="1.3" stroke-dasharray="5 10.0 10 4.0 2.5 2.5 6 7.0 2 10.0 5 4.0 10 10.0 4 4.0 4 5.0 4 3.5 8 4.0 4 10.0 3 7.0 2 3.5 4 3.0 2 10.0 6 7.0 6 5.0 6 3.5 1.5 3.0 8 5.0 1.5 10.0 10 5.0 2.5 7.0 2 22.5 2.5 2.5 1.5 4.0 1.5 3.5 2.5 10.0 4 10.0 6 2.5 6 5.0 1.5 4.0 1.5 10.0 6 5.0 6 4.0 6 5.0 2.5 4.0 10 2.5 8 3.0 1.5 24.3 2 10.0 2 3.0 4 7.0 8 7.0 1.5 3.5 2.5 7.0 4 7.0 8 4.0 4 2.5 1.5 22.3 2 4.0 2.5 10.0 1.5 3.5 8 4.0 2.5 10.0 2.5 7.0 8 4.0 8 3.5 5 3.5"/>
<line x1="589.5" y1="148.29" x2="982.0" y2="148.29" stroke="#111" stroke-width="1.3" stroke-dasharray="5 10.0 1.5 10.0 4 5.0 3 4.0 6 5.0 3 10.0 1.5 3.5 6 3.0 1.5 3.5 2.5 3.5 10 7.0 8 3.5 10 5.0 6 3.0 3 3.5 6 4.0 4 5.0 6 4.0 10 10.0 2 3.0 10 3.5 10 3.5 3 3.0 2 3.0 4 3.5 5 4.0 2.5 3.0 8 3.5 5 7.0 2 3.0 1.5 3.5 1.5 27.4 8 5.0 4 10.0 2 4.0 2.5 3.5 5 3.0 6 13.0 5 10.0 8 10.0 2 10.0 6 2.5 2 3.5 3 7.0 10 4.0 2.5 3.5 3 16.8 5 2.5 1.5 10.0 4 10.0 8 2.5 5 23.0 4 5.0 2 4.0 4 4.0 8 4.0 3 10.0 1.5 4.0 3 33.9 3 2.5"/>
<line x1="589.5" y1="110.14" x2="982.0" y2="110.14" stroke="#111" stroke-width="1.3" stroke-dasharray="5 7.0 8 2.5 6 21.1 5 3.5 8 2.5 2.5 3.5 1.5 3.0 10 3.0 2.5 3.5 3 21.6 4 3.5 4 4.0 8 4.0 10 2.5 3 5.0 4 2.5 3 3.5 4 3.0 2 4.0 2.5 2.5 4 3.0 1.5 4.0 5 5.0 1.5 10.0 10 3.5 6 2.5 3 3.5 2.5 10.0 3 7.0 2 10.0 8 10.0 3 3.0 3 5.0 1.5 2.5 10 4.0 1.5 5.0 5 3.5 8 26.2 8 3.0 4 3.0 5 2.5 5 5.0 1.5 3.5 8 5.0 5 7.0 5 10.0 6 5.0 1.5 3.5 8 4.0 10 10.0 1.5 3.0 3 5.0 2 3.5 1.5 2.5 3 22.5 8 5.0 8 2.5 2 7.0 4 2.5 10 10.0"/>
<rect x="594.25" y="306.25" width="34.00" height="32.75" fill="#fff"/>
<rect x="594.25" y="306.25" width="34.00" height="2.75" fill="url(#sparse)"/>
<rect x="594.25" y="309.00" width="34.00" height="30.00" fill="url(#dark)"/>
<rect x="595.35" y="307.55" width="31.80" height="31.45" fill="none" stroke="#000" stroke-width="2.3"/>
<rect x="643.25" y="300.00" width="34.25" height="39.00" fill="#fff"/>
<rect x="643.25" y="300.00" width="34.25" height="21.75" fill="url(#sparse)"/>
<rect x="643.25" y="321.75" width="34.25" height="17.25" fill="url(#dark)"/>
<rect x="644.35" y="301.30" width="32.05" height="37.70" fill="none" stroke="#000" stroke-width="2.3"/>
<rect x="692.50" y="309.25" width="34.50" height="29.75" fill="#fff"/>
<rect x="692.50" y="309.25" width="34.50" height="23.25" fill="url(#sparse)"/>
<rect x="692.50" y="332.50" width="34.50" height="6.50" fill="url(#dark)"/>
<rect x="693.60" y="310.55" width="32.30" height="28.45" fill="none" stroke="#000" stroke-width="2.3"/>
<rect x="742.00" y="197.50" width="33.75" height="141.50" fill="#fff"/>
<rect x="742.00" y="197.50" width="33.75" height="104.50" fill="url(#sparse)"/>
<rect x="742.00" y="302.00" width="33.75" height="37.00" fill="url(#dark)"/>
<rect x="743.10" y="198.80" width="31.55" height="140.20" fill="none" stroke="#000" stroke-width="2.3"/>
<rect x="791.75" y="116.25" width="33.25" height="222.75" fill="#fff"/>
<rect x="791.75" y="116.25" width="33.25" height="171.25" fill="url(#sparse)"/>
<rect x="791.75" y="287.50" width="33.25" height="51.50" fill="url(#dark)"/>
<rect x="792.85" y="117.55" width="31.05" height="221.45" fill="none" stroke="#000" stroke-width="2.3"/>
<rect x="841.75" y="282.50" width="33.25" height="56.50" fill="#fff"/>
<rect x="841.75" y="282.50" width="33.25" height="32.50" fill="url(#sparse)"/>
<rect x="841.75" y="315.00" width="33.25" height="24.00" fill="url(#dark)"/>
<rect x="842.85" y="283.80" width="31.05" height="55.20" fill="none" stroke="#000" stroke-width="2.3"/>
<rect x="891.25" y="301.75" width="33.75" height="37.25" fill="#fff"/>
<rect x="891.25" y="301.75" width="33.75" height="25.00" fill="url(#sparse)"/>
<rect x="891.25" y="326.75" width="33.75" height="12.25" fill="url(#dark)"/>
<rect x="892.35" y="303.05" width="31.55" height="35.95" fill="none" stroke="#000" stroke-width="2.3"/>
<rect x="940.50" y="325.00" width="34.00" height="14.00" fill="#fff"/>
<rect x="940.50" y="325.00" width="34.00" height="12.00" fill="url(#sparse)"/>
<rect x="940.50" y="337.00" width="34.00" height="2.00" fill="url(#dark)"/>
<rect x="941.60" y="326.30" width="31.80" height="12.70" fill="none" stroke="#000" stroke-width="2.3"/>
<rect x="587.50" y="72.00" width="395.50" height="267.00" fill="none" stroke="#000" stroke-width="2"/>
<line x1="581.50" y1="339.00" x2="984.00" y2="339.00" stroke="#000" stroke-width="2.6"/>
<line x1="581.50" y1="72.00" x2="984.00" y2="72.00" stroke="#000" stroke-width="2.6"/>
<line x1="581.50" y1="339.00" x2="587.50" y2="339.00" stroke="#000" stroke-width="2"/>
<text x="570.87" y="344.52" font-size="13.14" font-weight="bold" textLength="8.19" lengthAdjust="spacingAndGlyphs" fill="#000" stroke="#000" stroke-width="1.1" >0</text>
<line x1="581.50" y1="300.86" x2="587.50" y2="300.86" stroke="#000" stroke-width="2"/>
<text x="562.85" y="306.38" font-size="13.14" font-weight="bold" textLength="16.20" lengthAdjust="spacingAndGlyphs" fill="#000" stroke="#000" stroke-width="1.1" >20</text>
<line x1="581.50" y1="262.71" x2="587.50" y2="262.71" stroke="#000" stroke-width="2"/>
<text x="563.13" y="268.24" font-size="13.14" font-weight="bold" textLength="15.90" lengthAdjust="spacingAndGlyphs" fill="#000" stroke="#000" stroke-width="1.1" >40</text>
<line x1="581.50" y1="224.57" x2="587.50" y2="224.57" stroke="#000" stroke-width="2"/>
<text x="562.82" y="230.09" font-size="13.14" font-weight="bold" textLength="16.23" lengthAdjust="spacingAndGlyphs" fill="#000" stroke="#000" stroke-width="1.1" >60</text>
<line x1="581.50" y1="186.43" x2="587.50" y2="186.43" stroke="#000" stroke-width="2"/>
<text x="562.89" y="191.95" font-size="13.14" font-weight="bold" textLength="16.16" lengthAdjust="spacingAndGlyphs" fill="#000" stroke="#000" stroke-width="1.1" >80</text>
<line x1="581.50" y1="148.29" x2="587.50" y2="148.29" stroke="#000" stroke-width="2"/>
<path d="M560.92,144.22 L563.82,144.22 L563.82,154.36 L560.92,154.36 L560.92,148.48 L558.03,148.68 L558.03,146.65 Z" fill="#000"/>
<text x="563.66" y="153.81" font-size="13.14" font-weight="bold" textLength="7.68" lengthAdjust="spacingAndGlyphs" fill="#000" stroke="#000" stroke-width="1.1">0</text>
<text x="571.34" y="153.81" font-size="13.14" font-weight="bold" textLength="7.68" lengthAdjust="spacingAndGlyphs" fill="#000" stroke="#000" stroke-width="1.1">0</text>
<line x1="581.50" y1="110.14" x2="587.50" y2="110.14" stroke="#000" stroke-width="2"/>
<path d="M560.92,106.08 L563.82,106.08 L563.82,116.21 L560.92,116.21 L560.92,110.34 L558.03,110.54 L558.03,108.51 Z" fill="#000"/>
<text x="563.66" y="115.66" font-size="13.14" font-weight="bold" textLength="7.68" lengthAdjust="spacingAndGlyphs" fill="#000" stroke="#000" stroke-width="1.1">2</text>
<text x="571.34" y="115.66" font-size="13.14" font-weight="bold" textLength="7.68" lengthAdjust="spacingAndGlyphs" fill="#000" stroke="#000" stroke-width="1.1">0</text>
<line x1="581.50" y1="72.00" x2="587.50" y2="72.00" stroke="#000" stroke-width="2"/>
<path d="M560.92,67.93 L563.82,67.93 L563.82,78.07 L560.92,78.07 L560.92,72.19 L558.03,72.39 L558.03,70.37 Z" fill="#000"/>
<text x="563.66" y="77.52" font-size="13.14" font-weight="bold" textLength="7.68" lengthAdjust="spacingAndGlyphs" fill="#000" stroke="#000" stroke-width="1.1">4</text>
<text x="571.34" y="77.52" font-size="13.14" font-weight="bold" textLength="7.68" lengthAdjust="spacingAndGlyphs" fill="#000" stroke="#000" stroke-width="1.1">0</text>
<line x1="611.25" y1="339.00" x2="611.25" y2="344.00" stroke="#000" stroke-width="1.6"/>
<path d="M611.79,350.50 L613.75,350.50 L613.75,360.30 L611.79,360.30 L611.79,354.62 L609.82,354.81 L609.82,352.85 Z" fill="#000"/>
<line x1="660.38" y1="339.00" x2="660.38" y2="344.00" stroke="#000" stroke-width="1.6"/>
<text x="656.76" y="359.68" font-size="12.43" font-weight="bold" textLength="7.21" lengthAdjust="spacingAndGlyphs" fill="#000" stroke="#000" stroke-width="1.0" >8</text>
<line x1="709.75" y1="339.00" x2="709.75" y2="344.00" stroke="#000" stroke-width="1.6"/>
<text x="706.09" y="359.80" font-size="12.60" font-weight="bold" textLength="7.39" lengthAdjust="spacingAndGlyphs" fill="#000" stroke="#000" stroke-width="1.0" >2</text>
<line x1="758.88" y1="339.00" x2="758.88" y2="344.00" stroke="#000" stroke-width="1.6"/>
<text x="755.49" y="359.80" font-size="12.79" font-weight="bold" textLength="6.65" lengthAdjust="spacingAndGlyphs" fill="#000" stroke="#000" stroke-width="1.0" >4</text>
<line x1="808.38" y1="339.00" x2="808.38" y2="344.00" stroke="#000" stroke-width="1.6"/>
<text x="804.78" y="359.68" font-size="12.61" font-weight="bold" textLength="7.15" lengthAdjust="spacingAndGlyphs" fill="#000" stroke="#000" stroke-width="1.0" >5</text>
<line x1="858.38" y1="339.00" x2="858.38" y2="344.00" stroke="#000" stroke-width="1.6"/>
<text x="854.69" y="359.68" font-size="12.43" font-weight="bold" textLength="7.36" lengthAdjust="spacingAndGlyphs" fill="#000" stroke="#000" stroke-width="1.0" >6</text>
<line x1="908.12" y1="339.00" x2="908.12" y2="344.00" stroke="#000" stroke-width="1.6"/>
<text x="904.34" y="359.80" font-size="12.79" font-weight="bold" textLength="7.59" lengthAdjust="spacingAndGlyphs" fill="#000" stroke="#000" stroke-width="1.0" >7</text>
<line x1="957.50" y1="339.00" x2="957.50" y2="344.00" stroke="#000" stroke-width="1.6"/>
<path d="M954.91,350.63 L957.49,350.63 L957.49,360.16 L954.91,360.16 L954.91,354.63 L952.33,354.82 L952.33,352.92 Z" fill="#000"/>
<text x="957.34" y="359.66" font-size="12.40" font-weight="bold" textLength="6.81" lengthAdjust="spacingAndGlyphs" fill="#000" stroke="#000" stroke-width="1.0">3</text>
<path d="M765.70,19.00 L769.40,19.00 L769.40,34.75 L765.70,34.75 L765.70,25.61 L762.00,25.93 L762.00,22.78 Z" fill="#000"/>
<text x="772.41" y="34.24" font-size="21.40" font-weight="bold" textLength="11.40" lengthAdjust="spacingAndGlyphs" fill="#000" stroke="#000" stroke-width="0.6">9</text>
<text x="783.80" y="34.24" font-size="21.40" font-weight="bold" textLength="11.40" lengthAdjust="spacingAndGlyphs" fill="#000" stroke="#000" stroke-width="0.6">8</text>
<text x="795.20" y="34.24" font-size="21.40" font-weight="bold" textLength="11.40" lengthAdjust="spacingAndGlyphs" fill="#000" stroke="#000" stroke-width="0.6">7</text>
<text x="587.83" y="65.94" font-size="11.37" font-weight="bold" textLength="4.48" lengthAdjust="spacingAndGlyphs" fill="#000" stroke="#000" stroke-width="1.0" >(</text>
<text x="597.89" y="66.80" font-size="11.63" font-weight="bold" textLength="8.22" lengthAdjust="spacingAndGlyphs" fill="#000" stroke="#000" stroke-width="1.6" >X</text>
<path d="M616.51,58.91 L619.41,58.91 L619.41,67.70 L616.51,67.70 L616.51,62.60 L613.62,62.78 L613.62,61.02 Z" fill="#000"/>
<text x="619.07" y="67.00" font-size="10.73" font-weight="bold" textLength="7.19" lengthAdjust="spacingAndGlyphs" fill="#000" stroke="#000" stroke-width="1.4">0</text>
<text x="626.26" y="67.00" font-size="10.73" font-weight="bold" textLength="7.19" lengthAdjust="spacingAndGlyphs" fill="#000" stroke="#000" stroke-width="1.4">0</text>
<text x="633.44" y="67.00" font-size="10.73" font-weight="bold" textLength="7.19" lengthAdjust="spacingAndGlyphs" fill="#000" stroke="#000" stroke-width="1.4">0</text>
<text x="646.09" y="66.10" font-size="11.59" font-weight="bold" textLength="4.01" lengthAdjust="spacingAndGlyphs" fill="#000" stroke="#000" stroke-width="1.0" >)</text>
<text x="534.44" y="386.90" font-size="20.97" font-weight="bold" textLength="11.64" lengthAdjust="spacingAndGlyphs" fill="#000" stroke="#000" stroke-width="1.4" >b</text>
<text x="762.36" y="376.01" font-size="14.83" font-weight="bold" textLength="41.46" lengthAdjust="spacingAndGlyphs" fill="#000" stroke="#000" stroke-width="1.3" >AREAS</text>
<text x="532.61" y="160.52" font-size="12.85" font-weight="bold" textLength="9.50" lengthAdjust="spacingAndGlyphs" fill="#000" stroke="#000" stroke-width="1.1" >C</text>
<text x="532.83" y="172.65" font-size="13.23" font-weight="bold" textLength="9.26" lengthAdjust="spacingAndGlyphs" fill="#000" stroke="#000" stroke-width="1.1" >A</text>
<text x="532.99" y="184.65" font-size="13.23" font-weight="bold" textLength="8.92" lengthAdjust="spacingAndGlyphs" fill="#000" stroke="#000" stroke-width="1.1" >T</text>
<text x="532.61" y="196.52" font-size="12.85" font-weight="bold" textLength="9.50" lengthAdjust="spacingAndGlyphs" fill="#000" stroke="#000" stroke-width="1.1" >C</text>
<text x="532.17" y="208.65" font-size="13.23" font-weight="bold" textLength="10.56" lengthAdjust="spacingAndGlyphs" fill="#000" stroke="#000" stroke-width="1.1" >H</text>
<text x="532.99" y="230.85" font-size="13.23" font-weight="bold" textLength="8.92" lengthAdjust="spacingAndGlyphs" fill="#000" stroke="#000" stroke-width="1.1" >T</text>
<text x="532.64" y="242.52" font-size="12.85" font-weight="bold" textLength="9.63" lengthAdjust="spacingAndGlyphs" fill="#000" stroke="#000" stroke-width="1.1" >O</text>
<text x="532.17" y="254.45" font-size="13.23" font-weight="bold" textLength="10.56" lengthAdjust="spacingAndGlyphs" fill="#000" stroke="#000" stroke-width="1.1" >N</text>
<text x="532.74" y="266.12" font-size="12.85" font-weight="bold" textLength="9.57" lengthAdjust="spacingAndGlyphs" fill="#000" stroke="#000" stroke-width="1.1" >S</text>
<line x1="82.5" y1="700.75" x2="482.8" y2="700.75" stroke="#111" stroke-width="1.2" stroke-dasharray="2 3.2 2.5 6.5 3 3.9 8 9.1 1.5 9.1 6 6.5 10 3.2 1.5 13.0 6 3.9 6 13.0 5 13.0 10 3.2 2.5 9.1 3 13.0 1.5 4.5 2.5 3.2 3 6.5 3 3.9 6 13.0 8 33.8 1.5 3.2 4 9.1 10 13.0 2 4.5 1.5 5.2 1.5 4.5 5 9.1 1.5 6.5 10 4.5 10 3.9 10 3.9 6 6.5 3 9.1 10 4.5 3 9.1 10 9.1 10 4.5 8 13.0 3 4.5 10 6.5 6 3.2 2.5 13.0 5 6.5 4 4.5 3 4.5 1.5 3.9 5 5.2 10 5.2 5 9.1 10 3.9 2.5 5.2 5 3.9 4 13.0 2 9.1 8 4.5 2.5 5.2 1.5 5.2 2 5.2 2.5 5.2 4 13.0"/>
<line x1="82.5" y1="655.50" x2="482.8" y2="655.50" stroke="#111" stroke-width="1.2" stroke-dasharray="2 5.2 8 4.5 4 4.5 10 6.5 5 3.2 8 5.2 2.5 6.5 2.5 5.2 3 3.2 5 4.5 3 4.5 6 17.1 8 4.5 4 6.5 6 6.5 6 5.2 1.5 6.5 8 3.2 10 3.9 5 6.5 10 6.5 3 5.2 8 13.0 5 9.1 2 3.9 5 3.2 10 3.9 4 9.1 10 5.2 10 4.5 3 6.5 6 3.9 2 4.5 1.5 9.1 1.5 4.5 10 3.2 6 13.0 1.5 21.7 10 6.5 10 6.5 3 5.2 2.5 3.9 10 14.4 10 5.2 6 13.0 1.5 9.1 5 3.9 5 4.5 4 9.1 2 4.5 6 3.2 6 6.5 1.5 5.2 3 3.9 2.5 6.5 5 3.2 8 4.5 4 5.2 2 3.9 3 5.2"/>
<line x1="82.5" y1="610.25" x2="482.8" y2="610.25" stroke="#111" stroke-width="1.2" stroke-dasharray="8 3.2 3 3.2 5 5.2 4 5.2 2 4.5 6 4.5 2 3.2 5 6.5 3 5.2 3 25.2 5 13.0 2.5 3.2 10 13.0 10 5.2 3 3.9 3 9.1 3 4.5 10 3.9 8 9.1 4 6.5 5 6.5 10 3.9 2 9.1 10 13.0 6 3.2 2.5 25.2 2.5 13.0 5 3.9 2 3.2 5 13.0 4 3.9 4 3.2 2.5 13.0 4 4.5 8 13.0 2.5 4.5 5 9.1 5 25.8 8 3.9 6 4.5 2 3.9 4 6.5 1.5 17.6 3 13.0 6 23.8 2.5 6.5 8 9.1 6 9.1 5 3.2 4 3.2 1.5 3.9 1.5 13.0 5 9.1 6 9.1 3 4.5 5 5.2 5 9.1 8 6.5 3 5.2 2.5 5.2"/>
<line x1="82.5" y1="565.00" x2="482.8" y2="565.00" stroke="#111" stroke-width="1.2" stroke-dasharray="1.5 9.1 10 4.5 2.5 13.0 10 4.5 1.5 3.9 6 3.2 4 3.9 8 9.1 3 3.2 8 3.9 5 9.1 2.5 6.5 5 9.1 10 5.2 2.5 9.1 8 13.0 3 3.2 1.5 4.5 1.5 3.2 4 3.9 4 5.2 2.5 4.5 5 4.5 2 28.1 8 3.2 5 9.1 2 9.1 6 5.2 10 28.3 4 9.1 4 9.1 2.5 30.7 2.5 4.5 10 13.0 2.5 3.2 4 9.1 6 3.9 5 4.5 2.5 6.5 4 3.9 2 6.5 6 3.2 8 5.2 2.5 4.5 2 3.9 2.5 3.9 6 3.2 8 5.2 5 22.4 10 5.2 2 9.1 6 4.5 1.5 9.1 2.5 9.1 4 3.2 5 6.5 2 6.5 8 5.2 2.5 5.2 2 13.0"/>
<line x1="82.5" y1="519.75" x2="482.8" y2="519.75" stroke="#111" stroke-width="1.2" stroke-dasharray="5 6.5 6 4.5 2.5 4.5 10 21.9 8 9.1 5 6.5 6 4.5 8 5.2 3 3.9 3 6.5 3 13.0 2 3.9 4 9.1 10 5.2 2 9.1 2 13.0 2 13.0 10 6.5 2 9.1 10 3.2 6 6.5 3 6.5 2 3.9 1.5 5.2 5 22.2 3 5.2 2.5 5.2 2 6.5 3 6.5 5 3.9 5 13.0 1.5 13.0 3 4.5 10 4.5 1.5 13.0 2 4.5 2 3.2 3 4.5 8 3.2 8 3.2 8 3.2 4 3.9 4 13.0 6 13.0 4 6.5 4 20.3 2.5 5.2 1.5 13.0 2 3.9 6 13.0 2.5 9.1 6 3.9 10 3.2 10 3.9 2.5 6.5 3 3.9 8 4.5 6 4.5 5 6.5 3 3.2"/>
<rect x="87.00" y="700.75" width="35.50" height="45.25" fill="#fff"/>
<rect x="87.00" y="700.75" width="35.50" height="11.00" fill="url(#sparse)"/>
<rect x="87.00" y="711.75" width="35.50" height="34.25" fill="url(#dark)"/>
<rect x="88.10" y="702.05" width="33.30" height="43.95" fill="none" stroke="#000" stroke-width="2.3"/>
<rect x="138.25" y="688.75" width="35.00" height="57.25" fill="#fff"/>
<rect x="138.25" y="688.75" width="35.00" height="31.25" fill="url(#sparse)"/>
<rect x="138.25" y="720.00" width="35.00" height="26.00" fill="url(#dark)"/>
<rect x="139.35" y="690.05" width="32.80" height="55.95" fill="none" stroke="#000" stroke-width="2.3"/>
<rect x="188.75" y="700.00" width="35.50" height="46.00" fill="#fff"/>
<rect x="188.75" y="700.00" width="35.50" height="28.00" fill="url(#sparse)"/>
<rect x="188.75" y="728.00" width="35.50" height="18.00" fill="url(#dark)"/>
<rect x="189.85" y="701.30" width="33.30" height="44.70" fill="none" stroke="#000" stroke-width="2.3"/>
<rect x="239.50" y="586.25" width="35.50" height="159.75" fill="#fff"/>
<rect x="239.50" y="586.25" width="35.50" height="111.75" fill="url(#sparse)"/>
<rect x="239.50" y="698.00" width="35.50" height="48.00" fill="url(#dark)"/>
<rect x="240.60" y="587.55" width="33.30" height="158.45" fill="none" stroke="#000" stroke-width="2.3"/>
<rect x="290.50" y="514.50" width="35.00" height="231.50" fill="#fff"/>
<rect x="290.50" y="514.50" width="35.00" height="113.00" fill="url(#sparse)"/>
<rect x="290.50" y="627.50" width="35.00" height="118.50" fill="url(#dark)"/>
<rect x="291.60" y="515.80" width="32.80" height="230.20" fill="none" stroke="#000" stroke-width="2.3"/>
<rect x="340.50" y="645.00" width="34.50" height="101.00" fill="#fff"/>
<rect x="340.50" y="645.00" width="34.50" height="35.50" fill="url(#sparse)"/>
<rect x="340.50" y="680.50" width="34.50" height="65.50" fill="url(#dark)"/>
<rect x="341.60" y="646.30" width="32.30" height="99.70" fill="none" stroke="#000" stroke-width="2.3"/>
<rect x="391.25" y="692.50" width="33.25" height="53.50" fill="#fff"/>
<rect x="391.25" y="692.50" width="33.25" height="40.00" fill="url(#sparse)"/>
<rect x="391.25" y="732.50" width="33.25" height="13.50" fill="url(#dark)"/>
<rect x="392.35" y="693.80" width="31.05" height="52.20" fill="none" stroke="#000" stroke-width="2.3"/>
<rect x="440.50" y="728.75" width="33.75" height="17.25" fill="#fff"/>
<rect x="440.50" y="728.75" width="33.75" height="15.25" fill="url(#sparse)"/>
<rect x="440.50" y="744.00" width="33.75" height="2.00" fill="url(#dark)"/>
<rect x="441.60" y="730.05" width="31.55" height="15.95" fill="none" stroke="#000" stroke-width="2.3"/>
<rect x="80.50" y="474.50" width="403.25" height="271.50" fill="none" stroke="#000" stroke-width="2"/>
<line x1="74.50" y1="746.00" x2="484.75" y2="746.00" stroke="#000" stroke-width="2.6"/>
<line x1="74.50" y1="474.50" x2="484.75" y2="474.50" stroke="#000" stroke-width="2.6"/>
<line x1="74.50" y1="746.00" x2="80.50" y2="746.00" stroke="#000" stroke-width="2"/>
<text x="62.37" y="751.52" font-size="13.14" font-weight="bold" textLength="8.19" lengthAdjust="spacingAndGlyphs" fill="#000" stroke="#000" stroke-width="1.1" >0</text>
<line x1="74.50" y1="700.75" x2="80.50" y2="700.75" stroke="#000" stroke-width="2"/>
<text x="54.35" y="706.27" font-size="13.14" font-weight="bold" textLength="16.20" lengthAdjust="spacingAndGlyphs" fill="#000" stroke="#000" stroke-width="1.1" >20</text>
<line x1="74.50" y1="655.50" x2="80.50" y2="655.50" stroke="#000" stroke-width="2"/>
<text x="54.63" y="661.02" font-size="13.14" font-weight="bold" textLength="15.90" lengthAdjust="spacingAndGlyphs" fill="#000" stroke="#000" stroke-width="1.1" >40</text>
<line x1="74.50" y1="610.25" x2="80.50" y2="610.25" stroke="#000" stroke-width="2"/>
<text x="54.32" y="615.77" font-size="13.14" font-weight="bold" textLength="16.23" lengthAdjust="spacingAndGlyphs" fill="#000" stroke="#000" stroke-width="1.1" >60</text>
<line x1="74.50" y1="565.00" x2="80.50" y2="565.00" stroke="#000" stroke-width="2"/>
<text x="54.39" y="570.52" font-size="13.14" font-weight="bold" textLength="16.16" lengthAdjust="spacingAndGlyphs" fill="#000" stroke="#000" stroke-width="1.1" >80</text>
<line x1="74.50" y1="519.75" x2="80.50" y2="519.75" stroke="#000" stroke-width="2"/>
<path d="M52.42,515.68 L55.32,515.68 L55.32,525.82 L52.42,525.82 L52.42,519.94 L49.53,520.14 L49.53,518.12 Z" fill="#000"/>
<text x="55.16" y="525.27" font-size="13.14" font-weight="bold" textLength="7.68" lengthAdjust="spacingAndGlyphs" fill="#000" stroke="#000" stroke-width="1.1">0</text>
<text x="62.84" y="525.27" font-size="13.14" font-weight="bold" textLength="7.68" lengthAdjust="spacingAndGlyphs" fill="#000" stroke="#000" stroke-width="1.1">0</text>
<line x1="74.50" y1="474.50" x2="80.50" y2="474.50" stroke="#000" stroke-width="2"/>
<path d="M52.42,470.43 L55.32,470.43 L55.32,480.57 L52.42,480.57 L52.42,474.69 L49.53,474.89 L49.53,472.87 Z" fill="#000"/>
<text x="55.16" y="480.02" font-size="13.14" font-weight="bold" textLength="7.68" lengthAdjust="spacingAndGlyphs" fill="#000" stroke="#000" stroke-width="1.1">2</text>
<text x="62.84" y="480.02" font-size="13.14" font-weight="bold" textLength="7.68" lengthAdjust="spacingAndGlyphs" fill="#000" stroke="#000" stroke-width="1.1">0</text>
<line x1="104.75" y1="746.00" x2="104.75" y2="751.00" stroke="#000" stroke-width="1.6"/>
<path d="M105.29,757.00 L107.25,757.00 L107.25,766.80 L105.29,766.80 L105.29,761.12 L103.32,761.31 L103.32,759.35 Z" fill="#000"/>
<line x1="155.75" y1="746.00" x2="155.75" y2="751.00" stroke="#000" stroke-width="1.6"/>
<text x="152.14" y="766.18" font-size="12.43" font-weight="bold" textLength="7.21" lengthAdjust="spacingAndGlyphs" fill="#000" stroke="#000" stroke-width="1.0" >8</text>
<line x1="206.50" y1="746.00" x2="206.50" y2="751.00" stroke="#000" stroke-width="1.6"/>
<text x="202.84" y="766.30" font-size="12.60" font-weight="bold" textLength="7.39" lengthAdjust="spacingAndGlyphs" fill="#000" stroke="#000" stroke-width="1.0" >2</text>
<line x1="257.25" y1="746.00" x2="257.25" y2="751.00" stroke="#000" stroke-width="1.6"/>
<text x="253.87" y="766.30" font-size="12.79" font-weight="bold" textLength="6.65" lengthAdjust="spacingAndGlyphs" fill="#000" stroke="#000" stroke-width="1.0" >4</text>
<line x1="308.00" y1="746.00" x2="308.00" y2="751.00" stroke="#000" stroke-width="1.6"/>
<text x="304.40" y="766.18" font-size="12.61" font-weight="bold" textLength="7.15" lengthAdjust="spacingAndGlyphs" fill="#000" stroke="#000" stroke-width="1.0" >5</text>
<line x1="357.75" y1="746.00" x2="357.75" y2="751.00" stroke="#000" stroke-width="1.6"/>
<text x="354.07" y="766.18" font-size="12.43" font-weight="bold" textLength="7.36" lengthAdjust="spacingAndGlyphs" fill="#000" stroke="#000" stroke-width="1.0" >6</text>
<line x1="407.88" y1="746.00" x2="407.88" y2="751.00" stroke="#000" stroke-width="1.6"/>
<text x="404.09" y="766.30" font-size="12.79" font-weight="bold" textLength="7.59" lengthAdjust="spacingAndGlyphs" fill="#000" stroke="#000" stroke-width="1.0" >7</text>
<line x1="457.38" y1="746.00" x2="457.38" y2="751.00" stroke="#000" stroke-width="1.6"/>
<path d="M454.79,757.13 L457.37,757.13 L457.37,766.66 L454.79,766.66 L454.79,761.13 L452.20,761.32 L452.20,759.42 Z" fill="#000"/>
<text x="457.21" y="766.16" font-size="12.40" font-weight="bold" textLength="6.81" lengthAdjust="spacingAndGlyphs" fill="#000" stroke="#000" stroke-width="1.0">3</text>
<path d="M263.70,421.00 L267.40,421.00 L267.40,437.00 L263.70,437.00 L263.70,427.72 L260.00,428.04 L260.00,424.84 Z" fill="#000"/>
<text x="271.04" y="436.49" font-size="21.75" font-weight="bold" textLength="12.11" lengthAdjust="spacingAndGlyphs" fill="#000" stroke="#000" stroke-width="0.6">9</text>
<text x="283.15" y="436.49" font-size="21.75" font-weight="bold" textLength="12.11" lengthAdjust="spacingAndGlyphs" fill="#000" stroke="#000" stroke-width="0.6">8</text>
<text x="295.26" y="436.49" font-size="21.75" font-weight="bold" textLength="12.11" lengthAdjust="spacingAndGlyphs" fill="#000" stroke="#000" stroke-width="0.6">8</text>
<text x="81.70" y="468.05" font-size="11.80" font-weight="bold" textLength="4.01" lengthAdjust="spacingAndGlyphs" fill="#000" stroke="#000" stroke-width="1.0" >(</text>
<text x="92.50" y="470.00" font-size="13.37" font-weight="bold" textLength="7.81" lengthAdjust="spacingAndGlyphs" fill="#000" stroke="#000" stroke-width="1.6" >X</text>
<path d="M110.88,460.14 L113.87,460.14 L113.87,470.67 L110.88,470.67 L110.88,464.56 L107.89,464.77 L107.89,462.66 Z" fill="#000"/>
<text x="113.55" y="469.97" font-size="13.28" font-weight="bold" textLength="7.50" lengthAdjust="spacingAndGlyphs" fill="#000" stroke="#000" stroke-width="1.4">0</text>
<text x="121.05" y="469.97" font-size="13.28" font-weight="bold" textLength="7.50" lengthAdjust="spacingAndGlyphs" fill="#000" stroke="#000" stroke-width="1.4">0</text>
<text x="128.55" y="469.97" font-size="13.28" font-weight="bold" textLength="7.50" lengthAdjust="spacingAndGlyphs" fill="#000" stroke="#000" stroke-width="1.4">0</text>
<text x="141.49" y="468.05" font-size="11.80" font-weight="bold" textLength="3.54" lengthAdjust="spacingAndGlyphs" fill="#000" stroke="#000" stroke-width="1.0" >)</text>
<text x="23.93" y="797.11" font-size="19.35" font-weight="bold" textLength="10.95" lengthAdjust="spacingAndGlyphs" fill="#000" stroke="#000" stroke-width="1.4" >c</text>
<text x="261.35" y="784.01" font-size="14.83" font-weight="bold" textLength="42.48" lengthAdjust="spacingAndGlyphs" fill="#000" stroke="#000" stroke-width="1.3" >AREAS</text>
<text x="23.62" y="563.52" font-size="12.85" font-weight="bold" textLength="9.39" lengthAdjust="spacingAndGlyphs" fill="#000" stroke="#000" stroke-width="1.1" >C</text>
<text x="23.83" y="575.50" font-size="13.23" font-weight="bold" textLength="9.15" lengthAdjust="spacingAndGlyphs" fill="#000" stroke="#000" stroke-width="1.1" >A</text>
<text x="23.99" y="587.35" font-size="13.23" font-weight="bold" textLength="8.82" lengthAdjust="spacingAndGlyphs" fill="#000" stroke="#000" stroke-width="1.1" >T</text>
<text x="23.62" y="599.07" font-size="12.85" font-weight="bold" textLength="9.39" lengthAdjust="spacingAndGlyphs" fill="#000" stroke="#000" stroke-width="1.1" >C</text>
<text x="23.18" y="611.05" font-size="13.23" font-weight="bold" textLength="10.44" lengthAdjust="spacingAndGlyphs" fill="#000" stroke="#000" stroke-width="1.1" >H</text>
<text x="23.99" y="633.75" font-size="13.23" font-weight="bold" textLength="8.82" lengthAdjust="spacingAndGlyphs" fill="#000" stroke="#000" stroke-width="1.1" >T</text>
<text x="23.65" y="645.72" font-size="12.85" font-weight="bold" textLength="9.52" lengthAdjust="spacingAndGlyphs" fill="#000" stroke="#000" stroke-width="1.1" >O</text>
<text x="23.18" y="657.95" font-size="13.23" font-weight="bold" textLength="10.44" lengthAdjust="spacingAndGlyphs" fill="#000" stroke="#000" stroke-width="1.1" >N</text>
<text x="23.74" y="669.92" font-size="12.85" font-weight="bold" textLength="9.46" lengthAdjust="spacingAndGlyphs" fill="#000" stroke="#000" stroke-width="1.1" >S</text>
<line x1="587.8" y1="698.75" x2="981.5" y2="698.75" stroke="#111" stroke-width="1.1" stroke-dasharray="1.5 9.8 2.5 4.9 2 7.0 5 7.0 2.5 28.2 2 14.0 6 9.8 2 4.9 3 14.0 2.5 9.8 5 9.8 3 4.9 6 4.9 5 9.8 8 7.0 3 14.0 5 4.2 1.5 14.0 6 5.6 4 4.2 2.5 4.9 4 9.8 5 3.5 2 7.0 5 5.6 6 9.8 2 14.0 2.5 4.9 10 3.5 4 4.2 3 3.5 3 7.0 10 9.8 3 9.8 2.5 18.1 5 9.8 3 4.9 1.5 9.8 1.5 4.2 1.5 9.8 5 4.2 6 33.4 5 14.0 6 4.9 1.5 3.5 5 3.5 5 4.2 2.5 4.2 2 4.9 6 4.9 10 4.2 5 4.2 4 14.0 1.5 14.0 10 9.8 4 4.9 4 4.2 10 5.6 5 4.2 3 5.6"/>
<line x1="587.8" y1="654.25" x2="981.5" y2="654.25" stroke="#111" stroke-width="1.1" stroke-dasharray="2 3.5 2 3.5 3 7.0 4 7.0 2.5 4.2 2.5 28.7 3 5.6 8 4.2 5 14.0 3 4.9 1.5 3.5 1.5 3.5 6 9.8 1.5 4.2 6 5.6 3 3.5 4 9.8 3 4.9 6 9.8 8 4.2 2.5 5.6 4 14.0 4 4.9 1.5 5.6 3 4.2 8 4.2 3 14.0 5 3.5 8 4.2 2.5 4.9 2 4.2 1.5 4.2 2.5 7.0 2 14.0 6 3.5 6 4.9 1.5 7.0 1.5 3.5 3 7.0 2 34.7 5 3.5 2 5.6 10 19.0 10 4.2 10 7.0 10 4.9 2 4.9 3 9.8 2.5 3.5 2 3.5 1.5 5.6 5 25.2 8 7.0 5 9.8 4 5.6 10 5.6 2.5 5.6 6 14.0 1.5 4.2 4 9.8"/>
<line x1="587.8" y1="609.75" x2="981.5" y2="609.75" stroke="#111" stroke-width="1.1" stroke-dasharray="6 4.2 2 3.5 1.5 30.2 5 9.8 10 9.8 1.5 5.6 8 7.0 10 5.6 6 4.9 6 7.0 5 3.5 10 9.8 4 4.9 8 14.0 10 7.0 3 4.2 10 4.9 10 4.2 3 9.8 8 4.2 1.5 4.9 6 3.5 4 5.6 5 9.8 10 4.9 2 4.9 8 9.8 8 9.8 10 16.2 8 7.0 5 7.0 6 17.9 4 3.5 4 9.8 5 4.9 8 3.5 8 14.0 2.5 5.6 4 7.0 1.5 9.8 5 3.5 4 5.6 4 4.9 2.5 7.0 5 3.5 5 14.0 8 5.6 6 5.6 1.5 3.5 8 5.6 6 5.6 2.5 3.5 8 4.2 1.5 9.8 3 5.6 4 7.0 6 14.0 2 4.2 1.5 3.5 3 7.0"/>
<line x1="587.8" y1="565.25" x2="981.5" y2="565.25" stroke="#111" stroke-width="1.1" stroke-dasharray="3 9.8 1.5 7.0 6 14.0 6 33.4 5 4.9 1.5 4.2 4 7.0 5 5.6 4 7.0 6 24.4 6 14.0 10 4.9 2.5 3.5 5 5.6 2.5 4.9 5 4.2 10 24.5 10 3.5 5 3.5 8 4.9 3 14.0 8 5.6 8 4.2 1.5 4.2 2 3.5 2 14.0 2.5 3.5 10 9.8 8 4.2 4 14.0 2.5 4.2 3 7.0 2 4.2 1.5 5.6 4 9.8 6 4.2 2.5 3.5 8 4.9 5 9.8 2.5 4.9 5 7.0 2.5 14.0 3 5.6 5 5.6 4 4.2 2 4.2 2.5 5.6 6 18.8 3 9.8 10 3.5 5 3.5 8 3.5 4 14.0 10 14.0 2.5 5.6 3 7.0 1.5 7.0 1.5 4.9 2.5 9.8 2.5 4.9"/>
<line x1="587.8" y1="520.75" x2="981.5" y2="520.75" stroke="#111" stroke-width="1.1" stroke-dasharray="8 4.2 5 4.2 4 14.0 10 5.6 10 3.5 6 16.2 2 5.6 2.5 5.6 5 3.5 2.5 4.9 2 24.6 8 4.9 2 3.5 2 4.2 10 7.0 8 4.2 10 3.5 5 4.2 10 4.2 3 9.8 10 4.2 1.5 3.5 8 14.0 3 9.8 2 14.0 4 3.5 10 3.5 2 3.5 3 4.2 10 9.8 3 3.5 2 3.5 2.5 14.0 2 14.0 2.5 3.5 6 14.0 2 14.0 10 9.8 5 14.0 3 4.2 2 3.5 8 3.5 5 3.5 2 4.2 1.5 14.0 6 3.5 5 7.0 8 9.8 8 4.2 4 3.5 2.5 5.6 10 4.9 10 9.8 2 3.5 4 14.0 3 4.2 8 7.0 8 7.0 1.5 5.6 6 14.0"/>
<rect x="592.00" y="702.50" width="34.25" height="40.75" fill="#fff"/>
<rect x="592.00" y="702.50" width="34.25" height="17.50" fill="url(#sparse)"/>
<rect x="592.00" y="720.00" width="34.25" height="23.25" fill="url(#dark)"/>
<rect x="593.10" y="703.80" width="32.05" height="39.45" fill="none" stroke="#000" stroke-width="2.3"/>
<rect x="641.75" y="687.50" width="33.25" height="55.75" fill="#fff"/>
<rect x="641.75" y="687.50" width="33.25" height="28.75" fill="url(#sparse)"/>
<rect x="641.75" y="716.25" width="33.25" height="27.00" fill="url(#dark)"/>
<rect x="642.85" y="688.80" width="31.05" height="54.45" fill="none" stroke="#000" stroke-width="2.3"/>
<rect x="690.50" y="713.75" width="34.50" height="29.50" fill="#fff"/>
<rect x="690.50" y="713.75" width="34.50" height="22.50" fill="url(#sparse)"/>
<rect x="690.50" y="736.25" width="34.50" height="7.00" fill="url(#dark)"/>
<rect x="691.60" y="715.05" width="32.30" height="28.20" fill="none" stroke="#000" stroke-width="2.3"/>
<rect x="739.50" y="557.50" width="34.50" height="185.75" fill="#fff"/>
<rect x="739.50" y="557.50" width="34.50" height="151.75" fill="url(#medium)"/>
<rect x="739.50" y="709.25" width="34.50" height="34.00" fill="url(#dark)"/>
<rect x="740.60" y="558.80" width="32.30" height="184.45" fill="none" stroke="#000" stroke-width="2.3"/>
<rect x="789.00" y="488.00" width="35.00" height="255.25" fill="#fff"/>
<rect x="789.00" y="488.00" width="35.00" height="190.00" fill="url(#sparse)"/>
<rect x="789.00" y="678.00" width="35.00" height="65.25" fill="url(#dark)"/>
<rect x="790.10" y="489.30" width="32.80" height="253.95" fill="none" stroke="#000" stroke-width="2.3"/>
<rect x="839.25" y="700.00" width="34.00" height="43.25" fill="#fff"/>
<rect x="839.25" y="700.00" width="34.00" height="22.50" fill="url(#sparse)"/>
<rect x="839.25" y="722.50" width="34.00" height="20.75" fill="url(#dark)"/>
<rect x="840.35" y="701.30" width="31.80" height="41.95" fill="none" stroke="#000" stroke-width="2.3"/>
<rect x="890.00" y="680.00" width="34.25" height="63.25" fill="#fff"/>
<rect x="890.00" y="680.00" width="34.25" height="53.25" fill="url(#sparse)"/>
<rect x="890.00" y="733.25" width="34.25" height="10.00" fill="url(#dark)"/>
<rect x="891.10" y="681.30" width="32.05" height="61.95" fill="none" stroke="#000" stroke-width="2.3"/>
<rect x="940.00" y="712.00" width="33.25" height="31.25" fill="#fff"/>
<rect x="940.00" y="712.00" width="33.25" height="28.00" fill="url(#sparse)"/>
<rect x="940.00" y="740.00" width="33.25" height="3.25" fill="url(#dark)"/>
<rect x="941.10" y="713.30" width="31.05" height="29.95" fill="none" stroke="#000" stroke-width="2.3"/>
<rect x="585.75" y="476.25" width="396.75" height="267.00" fill="none" stroke="#000" stroke-width="2"/>
<line x1="579.75" y1="743.25" x2="983.50" y2="743.25" stroke="#000" stroke-width="2.6"/>
<line x1="579.75" y1="476.25" x2="983.50" y2="476.25" stroke="#000" stroke-width="2.6"/>
<line x1="579.75" y1="743.25" x2="585.75" y2="743.25" stroke="#000" stroke-width="2"/>
<text x="567.62" y="748.77" font-size="13.14" font-weight="bold" textLength="8.19" lengthAdjust="spacingAndGlyphs" fill="#000" stroke="#000" stroke-width="1.1" >0</text>
<line x1="579.75" y1="698.75" x2="585.75" y2="698.75" stroke="#000" stroke-width="2"/>
<text x="559.60" y="704.27" font-size="13.14" font-weight="bold" textLength="16.20" lengthAdjust="spacingAndGlyphs" fill="#000" stroke="#000" stroke-width="1.1" >20</text>
<line x1="579.75" y1="654.25" x2="585.75" y2="654.25" stroke="#000" stroke-width="2"/>
<text x="559.88" y="659.77" font-size="13.14" font-weight="bold" textLength="15.90" lengthAdjust="spacingAndGlyphs" fill="#000" stroke="#000" stroke-width="1.1" >40</text>
<line x1="579.75" y1="609.75" x2="585.75" y2="609.75" stroke="#000" stroke-width="2"/>
<text x="559.57" y="615.27" font-size="13.14" font-weight="bold" textLength="16.23" lengthAdjust="spacingAndGlyphs" fill="#000" stroke="#000" stroke-width="1.1" >60</text>
<line x1="579.75" y1="565.25" x2="585.75" y2="565.25" stroke="#000" stroke-width="2"/>
<text x="559.64" y="570.77" font-size="13.14" font-weight="bold" textLength="16.16" lengthAdjust="spacingAndGlyphs" fill="#000" stroke="#000" stroke-width="1.1" >80</text>
<line x1="579.75" y1="520.75" x2="585.75" y2="520.75" stroke="#000" stroke-width="2"/>
<path d="M557.67,516.68 L560.57,516.68 L560.57,526.82 L557.67,526.82 L557.67,520.94 L554.78,521.14 L554.78,519.12 Z" fill="#000"/>
<text x="560.41" y="526.27" font-size="13.14" font-weight="bold" textLength="7.68" lengthAdjust="spacingAndGlyphs" fill="#000" stroke="#000" stroke-width="1.1">0</text>
<text x="568.09" y="526.27" font-size="13.14" font-weight="bold" textLength="7.68" lengthAdjust="spacingAndGlyphs" fill="#000" stroke="#000" stroke-width="1.1">0</text>
<line x1="579.75" y1="476.25" x2="585.75" y2="476.25" stroke="#000" stroke-width="2"/>
<path d="M557.67,472.18 L560.57,472.18 L560.57,482.32 L557.67,482.32 L557.67,476.44 L554.78,476.64 L554.78,474.62 Z" fill="#000"/>
<text x="560.41" y="481.77" font-size="13.14" font-weight="bold" textLength="7.68" lengthAdjust="spacingAndGlyphs" fill="#000" stroke="#000" stroke-width="1.1">2</text>
<text x="568.09" y="481.77" font-size="13.14" font-weight="bold" textLength="7.68" lengthAdjust="spacingAndGlyphs" fill="#000" stroke="#000" stroke-width="1.1">0</text>
<line x1="609.12" y1="743.25" x2="609.12" y2="748.25" stroke="#000" stroke-width="1.6"/>
<path d="M609.66,755.00 L611.62,755.00 L611.62,764.40 L609.66,764.40 L609.66,758.95 L607.70,759.14 L607.70,757.26 Z" fill="#000"/>
<line x1="658.38" y1="743.25" x2="658.38" y2="748.25" stroke="#000" stroke-width="1.6"/>
<text x="654.76" y="763.78" font-size="11.86" font-weight="bold" textLength="7.21" lengthAdjust="spacingAndGlyphs" fill="#000" stroke="#000" stroke-width="1.0" >8</text>
<line x1="707.75" y1="743.25" x2="707.75" y2="748.25" stroke="#000" stroke-width="1.6"/>
<text x="704.09" y="763.90" font-size="12.03" font-weight="bold" textLength="7.39" lengthAdjust="spacingAndGlyphs" fill="#000" stroke="#000" stroke-width="1.0" >2</text>
<line x1="756.75" y1="743.25" x2="756.75" y2="748.25" stroke="#000" stroke-width="1.6"/>
<text x="753.37" y="763.90" font-size="12.21" font-weight="bold" textLength="6.65" lengthAdjust="spacingAndGlyphs" fill="#000" stroke="#000" stroke-width="1.0" >4</text>
<line x1="806.50" y1="743.25" x2="806.50" y2="748.25" stroke="#000" stroke-width="1.6"/>
<text x="802.90" y="763.78" font-size="12.04" font-weight="bold" textLength="7.15" lengthAdjust="spacingAndGlyphs" fill="#000" stroke="#000" stroke-width="1.0" >5</text>
<line x1="856.25" y1="743.25" x2="856.25" y2="748.25" stroke="#000" stroke-width="1.6"/>
<text x="852.57" y="763.78" font-size="11.86" font-weight="bold" textLength="7.36" lengthAdjust="spacingAndGlyphs" fill="#000" stroke="#000" stroke-width="1.0" >6</text>
<line x1="907.12" y1="743.25" x2="907.12" y2="748.25" stroke="#000" stroke-width="1.6"/>
<text x="903.34" y="763.90" font-size="12.21" font-weight="bold" textLength="7.59" lengthAdjust="spacingAndGlyphs" fill="#000" stroke="#000" stroke-width="1.0" >7</text>
<line x1="956.62" y1="743.25" x2="956.62" y2="748.25" stroke="#000" stroke-width="1.6"/>
<path d="M954.04,755.12 L956.62,755.12 L956.62,764.27 L954.04,764.27 L954.04,758.96 L951.45,759.15 L951.45,757.32 Z" fill="#000"/>
<text x="956.46" y="763.77" font-size="11.84" font-weight="bold" textLength="6.81" lengthAdjust="spacingAndGlyphs" fill="#000" stroke="#000" stroke-width="1.0">3</text>
<path d="M762.70,422.00 L766.40,422.00 L766.40,438.00 L762.70,438.00 L762.70,428.72 L759.00,429.04 L759.00,425.84 Z" fill="#000"/>
<text x="769.84" y="437.49" font-size="21.75" font-weight="bold" textLength="11.88" lengthAdjust="spacingAndGlyphs" fill="#000" stroke="#000" stroke-width="0.6">9</text>
<text x="781.72" y="437.49" font-size="21.75" font-weight="bold" textLength="11.88" lengthAdjust="spacingAndGlyphs" fill="#000" stroke="#000" stroke-width="0.6">8</text>
<text x="793.61" y="437.49" font-size="21.75" font-weight="bold" textLength="11.88" lengthAdjust="spacingAndGlyphs" fill="#000" stroke="#000" stroke-width="0.6">9</text>
<text x="586.94" y="469.98" font-size="13.09" font-weight="bold" textLength="3.78" lengthAdjust="spacingAndGlyphs" fill="#000" stroke="#000" stroke-width="1.0" >(</text>
<text x="597.50" y="471.20" font-size="12.21" font-weight="bold" textLength="7.81" lengthAdjust="spacingAndGlyphs" fill="#000" stroke="#000" stroke-width="1.6" >X</text>
<path d="M615.60,462.14 L618.43,462.14 L618.43,472.67 L615.60,472.67 L615.60,466.56 L612.77,466.77 L612.77,464.66 Z" fill="#000"/>
<text x="618.09" y="471.97" font-size="13.28" font-weight="bold" textLength="6.98" lengthAdjust="spacingAndGlyphs" fill="#000" stroke="#000" stroke-width="1.4">0</text>
<text x="625.06" y="471.97" font-size="13.28" font-weight="bold" textLength="6.98" lengthAdjust="spacingAndGlyphs" fill="#000" stroke="#000" stroke-width="1.4">0</text>
<text x="632.04" y="471.97" font-size="13.28" font-weight="bold" textLength="6.98" lengthAdjust="spacingAndGlyphs" fill="#000" stroke="#000" stroke-width="1.4">0</text>
<text x="644.49" y="469.83" font-size="12.87" font-weight="bold" textLength="3.54" lengthAdjust="spacingAndGlyphs" fill="#000" stroke="#000" stroke-width="1.0" >)</text>
<text x="531.92" y="794.12" font-size="18.52" font-weight="bold" textLength="11.64" lengthAdjust="spacingAndGlyphs" fill="#000" stroke="#000" stroke-width="1.4" >d</text>
<text x="761.36" y="780.22" font-size="13.42" font-weight="bold" textLength="41.46" lengthAdjust="spacingAndGlyphs" fill="#000" stroke="#000" stroke-width="1.3" >AREAS</text>
<text x="530.63" y="562.32" font-size="12.85" font-weight="bold" textLength="9.17" lengthAdjust="spacingAndGlyphs" fill="#000" stroke="#000" stroke-width="1.1" >C</text>
<text x="530.84" y="574.50" font-size="13.23" font-weight="bold" textLength="8.93" lengthAdjust="spacingAndGlyphs" fill="#000" stroke="#000" stroke-width="1.1" >A</text>
<text x="530.99" y="586.55" font-size="13.23" font-weight="bold" textLength="8.61" lengthAdjust="spacingAndGlyphs" fill="#000" stroke="#000" stroke-width="1.1" >T</text>
<text x="530.63" y="598.47" font-size="12.85" font-weight="bold" textLength="9.17" lengthAdjust="spacingAndGlyphs" fill="#000" stroke="#000" stroke-width="1.1" >C</text>
<text x="530.21" y="610.65" font-size="13.23" font-weight="bold" textLength="10.20" lengthAdjust="spacingAndGlyphs" fill="#000" stroke="#000" stroke-width="1.1" >H</text>
<text x="530.99" y="632.55" font-size="13.23" font-weight="bold" textLength="8.61" lengthAdjust="spacingAndGlyphs" fill="#000" stroke="#000" stroke-width="1.1" >T</text>
<text x="530.66" y="644.42" font-size="12.85" font-weight="bold" textLength="9.29" lengthAdjust="spacingAndGlyphs" fill="#000" stroke="#000" stroke-width="1.1" >O</text>
<text x="530.21" y="656.55" font-size="13.23" font-weight="bold" textLength="10.20" lengthAdjust="spacingAndGlyphs" fill="#000" stroke="#000" stroke-width="1.1" >N</text>
<text x="530.75" y="668.42" font-size="12.85" font-weight="bold" textLength="9.24" lengthAdjust="spacingAndGlyphs" fill="#000" stroke="#000" stroke-width="1.1" >S</text>
<line x1="72.8" y1="1110.75" x2="469.0" y2="1110.75" stroke="#111" stroke-width="1.4" stroke-dasharray="5 7.5 2 2.2 5 5.2 6 7.5 4 3.0 2 7.5 6 3.8 2.5 2.6 2 2.6 8 3.8 5 1.9 2.5 5.2 6 5.2 3 1.9 1.5 3.0 2.5 3.0 2.5 2.6 5 7.5 6 2.6 10 7.5 3 7.5 2.5 3.0 1.5 7.5 3 3.0 4 5.2 2 3.8 10 5.2 4 5.2 10 3.8 4 2.6 6 3.8 1.5 5.2 5 5.2 1.5 7.5 2 3.8 4 7.5 2.5 5.2 8 1.9 8 26.3 4 2.2 10 1.9 2.5 5.2 4 5.2 4 7.5 6 3.8 2 7.5 6 3.0 5 5.2 5 2.2 8 7.5 10 2.6 3 3.8 1.5 2.2 10 2.2 1.5 3.8 6 7.5 2.5 2.6 8 2.2 8 3.0 4 2.6"/>
<line x1="72.8" y1="1066.00" x2="469.0" y2="1066.00" stroke="#111" stroke-width="1.4" stroke-dasharray="6 7.5 4 1.9 8 3.8 2.5 7.5 1.5 2.2 10 3.0 6 7.5 6 2.6 6 3.8 2 2.6 1.5 1.9 4 2.6 5 2.6 2 3.8 6 7.5 2 2.6 2.5 5.2 2 7.5 5 3.0 5 2.6 2.5 3.8 6 5.2 4 2.2 2 3.0 1.5 7.5 3 3.8 3 3.8 2.5 2.2 3 3.8 4 1.9 6 2.6 6 3.8 2 7.5 10 2.6 3 2.6 2 20.4 2 7.5 3 1.9 2.5 3.0 1.5 3.0 1.5 1.9 8 1.9 4 5.2 5 3.8 3 3.8 3 2.6 10 5.2 2.5 1.9 4 3.0 4 5.2 2 3.0 6 2.2 1.5 7.5 10 2.6 4 1.9 2.5 3.0 8 2.2 3 1.9 4 7.5 10 1.9"/>
<line x1="72.8" y1="1021.25" x2="469.0" y2="1021.25" stroke="#111" stroke-width="1.4" stroke-dasharray="3 7.5 3 7.5 10 7.5 4 5.2 1.5 5.2 1.5 1.9 6 1.9 10 2.6 2.5 3.8 5 2.6 2.5 5.2 1.5 7.5 2 2.6 2.5 2.6 8 3.0 5 7.5 2.5 7.5 4 3.8 5 2.6 3 5.2 10 3.0 6 2.2 6 2.2 2 2.2 10 25.2 2 3.0 3 3.8 2 7.5 10 3.0 3 1.9 5 3.0 2 3.8 3 3.0 8 7.5 1.5 7.5 6 5.2 3 5.2 8 3.8 8 3.8 3 7.5 3 1.9 3 5.2 1.5 2.2 3 24.5 6 2.2 3 7.5 10 5.2 6 2.6 8 1.9 2 7.5 2 2.2 10 2.2 5 1.9 6 1.9 1.5 3.8 2 3.8 10 1.9 10 3.8 6 26.4 1.5 2.2"/>
<line x1="72.8" y1="976.50" x2="469.0" y2="976.50" stroke="#111" stroke-width="1.4" stroke-dasharray="8 2.2 3 5.2 2 3.8 10 3.8 2 1.9 2 1.9 4 2.6 2.5 3.0 5 7.5 2 1.9 3 3.8 6 3.8 3 7.5 2 1.9 1.5 5.2 6 7.5 2.5 3.8 8 2.6 4 7.5 5 1.9 2 2.2 8 7.5 5 2.6 1.5 3.0 5 2.2 5 7.5 3 2.6 10 2.2 5 3.0 5 1.9 8 2.2 1.5 5.2 3 3.0 10 5.2 2 5.2 4 7.5 1.5 5.2 2 2.2 2.5 5.2 4 7.5 5 2.6 2 5.2 4 3.8 2.5 5.2 2 5.2 2 1.9 10 1.9 2 2.2 8 5.2 4 7.5 2 2.6 6 5.2 8 5.2 8 2.6 3 1.9 3 1.9 5 5.2 1.5 7.5 2 2.2 4 5.2"/>
<line x1="72.8" y1="931.75" x2="469.0" y2="931.75" stroke="#111" stroke-width="1.4" stroke-dasharray="1.5 2.2 1.5 3.0 2 3.8 1.5 1.9 4 7.5 5 2.6 2.5 2.2 4 2.6 10 5.2 3 7.5 6 7.5 3 2.2 5 2.2 8 2.6 1.5 1.9 5 2.2 8 3.0 2 3.0 8 1.9 8 3.0 3 3.0 2 2.2 5 3.0 5 3.8 10 2.2 3 3.8 6 1.9 6 3.8 10 2.2 5 2.2 8 2.6 8 7.5 2 7.5 5 1.9 5 1.9 8 3.0 10 1.9 10 1.9 1.5 3.8 8 5.2 5 2.2 5 5.2 5 5.2 2.5 5.2 8 5.2 3 7.5 8 2.2 4 5.2 3 1.9 2.5 1.9 8 2.2 5 3.8 8 5.2 3 2.2 3 2.6 8 2.6 5 1.9 5 3.0 1.5 3.8 2.5 2.2"/>
<rect x="78.75" y="1134.50" width="33.75" height="21.00" fill="#fff"/>
<rect x="78.75" y="1134.50" width="33.75" height="7.25" fill="url(#sparse)"/>
<rect x="78.75" y="1141.75" width="33.75" height="13.75" fill="url(#dark)"/>
<rect x="79.85" y="1135.80" width="31.55" height="19.70" fill="none" stroke="#000" stroke-width="2.3"/>
<rect x="128.75" y="1135.75" width="33.75" height="19.75" fill="#fff"/>
<rect x="128.75" y="1135.75" width="33.75" height="13.00" fill="url(#sparse)"/>
<rect x="128.75" y="1148.75" width="33.75" height="6.75" fill="url(#dark)"/>
<rect x="129.85" y="1137.05" width="31.55" height="18.45" fill="none" stroke="#000" stroke-width="2.3"/>
<rect x="178.25" y="1126.75" width="35.00" height="28.75" fill="#fff"/>
<rect x="178.25" y="1126.75" width="35.00" height="22.50" fill="url(#sparse)"/>
<rect x="178.25" y="1149.25" width="35.00" height="6.25" fill="url(#dark)"/>
<rect x="179.35" y="1128.05" width="32.80" height="27.45" fill="none" stroke="#000" stroke-width="2.3"/>
<rect x="228.00" y="953.00" width="35.00" height="202.50" fill="#fff"/>
<rect x="228.00" y="953.00" width="35.00" height="172.50" fill="url(#dense)"/>
<rect x="228.00" y="1125.50" width="35.00" height="30.00" fill="url(#dark)"/>
<rect x="229.10" y="954.30" width="32.80" height="201.20" fill="none" stroke="#000" stroke-width="2.3"/>
<rect x="278.50" y="921.25" width="34.50" height="234.25" fill="#fff"/>
<rect x="278.50" y="921.25" width="34.50" height="158.75" fill="url(#dense)"/>
<rect x="278.50" y="1080.00" width="34.50" height="75.50" fill="url(#dark)"/>
<rect x="279.60" y="922.55" width="32.30" height="232.95" fill="none" stroke="#000" stroke-width="2.3"/>
<rect x="328.25" y="1075.00" width="34.25" height="80.50" fill="#fff"/>
<rect x="328.25" y="1075.00" width="34.25" height="31.25" fill="url(#sparse)"/>
<rect x="328.25" y="1106.25" width="34.25" height="49.25" fill="url(#dark)"/>
<rect x="329.35" y="1076.30" width="32.05" height="79.20" fill="none" stroke="#000" stroke-width="2.3"/>
<rect x="378.00" y="1099.50" width="34.50" height="56.00" fill="#fff"/>
<rect x="378.00" y="1099.50" width="34.50" height="46.75" fill="url(#dense)"/>
<rect x="378.00" y="1146.25" width="34.50" height="9.25" fill="url(#dark)"/>
<rect x="379.10" y="1100.80" width="32.30" height="54.70" fill="none" stroke="#000" stroke-width="2.3"/>
<rect x="428.00" y="1126.25" width="34.00" height="29.25" fill="#fff"/>
<rect x="428.00" y="1126.25" width="34.00" height="23.75" fill="url(#sparse)"/>
<rect x="428.00" y="1150.00" width="34.00" height="5.50" fill="url(#dark)"/>
<rect x="429.10" y="1127.55" width="31.80" height="27.95" fill="none" stroke="#000" stroke-width="2.3"/>
<rect x="70.75" y="887.00" width="399.25" height="268.50" fill="none" stroke="#000" stroke-width="2"/>
<line x1="64.75" y1="1155.50" x2="471.00" y2="1155.50" stroke="#000" stroke-width="2.6"/>
<line x1="64.75" y1="887.00" x2="471.00" y2="887.00" stroke="#000" stroke-width="2.6"/>
<line x1="64.75" y1="1155.50" x2="70.75" y2="1155.50" stroke="#000" stroke-width="2"/>
<text x="53.62" y="1161.02" font-size="13.14" font-weight="bold" textLength="8.19" lengthAdjust="spacingAndGlyphs" fill="#000" stroke="#000" stroke-width="1.1" >0</text>
<line x1="64.75" y1="1110.75" x2="70.75" y2="1110.75" stroke="#000" stroke-width="2"/>
<text x="45.60" y="1116.27" font-size="13.14" font-weight="bold" textLength="16.20" lengthAdjust="spacingAndGlyphs" fill="#000" stroke="#000" stroke-width="1.1" >20</text>
<line x1="64.75" y1="1066.00" x2="70.75" y2="1066.00" stroke="#000" stroke-width="2"/>
<text x="45.88" y="1071.52" font-size="13.14" font-weight="bold" textLength="15.90" lengthAdjust="spacingAndGlyphs" fill="#000" stroke="#000" stroke-width="1.1" >40</text>
<line x1="64.75" y1="1021.25" x2="70.75" y2="1021.25" stroke="#000" stroke-width="2"/>
<text x="45.57" y="1026.77" font-size="13.14" font-weight="bold" textLength="16.23" lengthAdjust="spacingAndGlyphs" fill="#000" stroke="#000" stroke-width="1.1" >60</text>
<line x1="64.75" y1="976.50" x2="70.75" y2="976.50" stroke="#000" stroke-width="2"/>
<text x="45.64" y="982.02" font-size="13.14" font-weight="bold" textLength="16.16" lengthAdjust="spacingAndGlyphs" fill="#000" stroke="#000" stroke-width="1.1" >80</text>
<line x1="64.75" y1="931.75" x2="70.75" y2="931.75" stroke="#000" stroke-width="2"/>
<path d="M43.67,927.68 L46.57,927.68 L46.57,937.82 L43.67,937.82 L43.67,931.94 L40.78,932.14 L40.78,930.12 Z" fill="#000"/>
<text x="46.41" y="937.27" font-size="13.14" font-weight="bold" textLength="7.68" lengthAdjust="spacingAndGlyphs" fill="#000" stroke="#000" stroke-width="1.1">0</text>
<text x="54.09" y="937.27" font-size="13.14" font-weight="bold" textLength="7.68" lengthAdjust="spacingAndGlyphs" fill="#000" stroke="#000" stroke-width="1.1">0</text>
<line x1="64.75" y1="887.00" x2="70.75" y2="887.00" stroke="#000" stroke-width="2"/>
<path d="M43.67,882.93 L46.57,882.93 L46.57,893.07 L43.67,893.07 L43.67,887.19 L40.78,887.39 L40.78,885.37 Z" fill="#000"/>
<text x="46.41" y="892.52" font-size="13.14" font-weight="bold" textLength="7.68" lengthAdjust="spacingAndGlyphs" fill="#000" stroke="#000" stroke-width="1.1">2</text>
<text x="54.09" y="892.52" font-size="13.14" font-weight="bold" textLength="7.68" lengthAdjust="spacingAndGlyphs" fill="#000" stroke="#000" stroke-width="1.1">0</text>
<line x1="95.62" y1="1155.50" x2="95.62" y2="1160.50" stroke="#000" stroke-width="1.6"/>
<path d="M96.16,1166.90 L98.12,1166.90 L98.12,1176.90 L96.16,1176.90 L96.16,1171.10 L94.20,1171.30 L94.20,1169.30 Z" fill="#000"/>
<line x1="145.62" y1="1155.50" x2="145.62" y2="1160.50" stroke="#000" stroke-width="1.6"/>
<text x="142.01" y="1176.28" font-size="12.71" font-weight="bold" textLength="7.21" lengthAdjust="spacingAndGlyphs" fill="#000" stroke="#000" stroke-width="1.0" >8</text>
<line x1="195.75" y1="1155.50" x2="195.75" y2="1160.50" stroke="#000" stroke-width="1.6"/>
<text x="192.09" y="1176.40" font-size="12.89" font-weight="bold" textLength="7.39" lengthAdjust="spacingAndGlyphs" fill="#000" stroke="#000" stroke-width="1.0" >2</text>
<line x1="245.50" y1="1155.50" x2="245.50" y2="1160.50" stroke="#000" stroke-width="1.6"/>
<text x="242.12" y="1176.40" font-size="13.08" font-weight="bold" textLength="6.65" lengthAdjust="spacingAndGlyphs" fill="#000" stroke="#000" stroke-width="1.0" >4</text>
<line x1="295.75" y1="1155.50" x2="295.75" y2="1160.50" stroke="#000" stroke-width="1.6"/>
<text x="292.15" y="1176.27" font-size="12.90" font-weight="bold" textLength="7.15" lengthAdjust="spacingAndGlyphs" fill="#000" stroke="#000" stroke-width="1.0" >5</text>
<line x1="345.38" y1="1155.50" x2="345.38" y2="1160.50" stroke="#000" stroke-width="1.6"/>
<text x="341.69" y="1176.28" font-size="12.71" font-weight="bold" textLength="7.36" lengthAdjust="spacingAndGlyphs" fill="#000" stroke="#000" stroke-width="1.0" >6</text>
<line x1="395.25" y1="1155.50" x2="395.25" y2="1160.50" stroke="#000" stroke-width="1.6"/>
<text x="391.46" y="1176.40" font-size="13.08" font-weight="bold" textLength="7.59" lengthAdjust="spacingAndGlyphs" fill="#000" stroke="#000" stroke-width="1.0" >7</text>
<line x1="445.00" y1="1155.50" x2="445.00" y2="1160.50" stroke="#000" stroke-width="1.6"/>
<path d="M442.41,1167.03 L444.99,1167.03 L444.99,1176.76 L442.41,1176.76 L442.41,1171.12 L439.83,1171.31 L439.83,1169.36 Z" fill="#000"/>
<text x="444.84" y="1176.26" font-size="12.69" font-weight="bold" textLength="6.81" lengthAdjust="spacingAndGlyphs" fill="#000" stroke="#000" stroke-width="1.0">3</text>
<path d="M251.70,832.50 L255.40,832.50 L255.40,848.50 L251.70,848.50 L251.70,839.22 L248.00,839.54 L248.00,836.34 Z" fill="#000"/>
<text x="258.86" y="847.99" font-size="21.75" font-weight="bold" textLength="11.91" lengthAdjust="spacingAndGlyphs" fill="#000" stroke="#000" stroke-width="0.6">9</text>
<text x="270.76" y="847.99" font-size="21.75" font-weight="bold" textLength="11.91" lengthAdjust="spacingAndGlyphs" fill="#000" stroke="#000" stroke-width="0.6">9</text>
<text x="282.67" y="847.99" font-size="21.75" font-weight="bold" textLength="11.91" lengthAdjust="spacingAndGlyphs" fill="#000" stroke="#000" stroke-width="0.6">0</text>
<text x="71.79" y="880.52" font-size="12.44" font-weight="bold" textLength="4.72" lengthAdjust="spacingAndGlyphs" fill="#000" stroke="#000" stroke-width="1.0" >(</text>
<text x="82.51" y="881.60" font-size="12.79" font-weight="bold" textLength="6.78" lengthAdjust="spacingAndGlyphs" fill="#000" stroke="#000" stroke-width="1.6" >X</text>
<path d="M100.68,872.15 L103.56,872.15 L103.56,883.46 L100.68,883.46 L100.68,876.90 L97.80,877.12 L97.80,874.86 Z" fill="#000"/>
<text x="103.23" y="882.76" font-size="14.41" font-weight="bold" textLength="7.13" lengthAdjust="spacingAndGlyphs" fill="#000" stroke="#000" stroke-width="1.4">0</text>
<text x="110.36" y="882.76" font-size="14.41" font-weight="bold" textLength="7.13" lengthAdjust="spacingAndGlyphs" fill="#000" stroke="#000" stroke-width="1.4">0</text>
<text x="117.49" y="882.76" font-size="14.41" font-weight="bold" textLength="7.13" lengthAdjust="spacingAndGlyphs" fill="#000" stroke="#000" stroke-width="1.4">0</text>
<text x="130.29" y="880.83" font-size="12.87" font-weight="bold" textLength="4.96" lengthAdjust="spacingAndGlyphs" fill="#000" stroke="#000" stroke-width="1.0" >)</text>
<text x="16.84" y="1209.09" font-size="21.17" font-weight="bold" textLength="12.21" lengthAdjust="spacingAndGlyphs" fill="#000" stroke="#000" stroke-width="1.4" >e</text>
<text x="248.34" y="1193.81" font-size="14.27" font-weight="bold" textLength="43.49" lengthAdjust="spacingAndGlyphs" fill="#000" stroke="#000" stroke-width="1.3" >AREAS</text>
<text x="15.20" y="974.72" font-size="12.85" font-weight="bold" textLength="9.61" lengthAdjust="spacingAndGlyphs" fill="#000" stroke="#000" stroke-width="1.1" >C</text>
<text x="15.43" y="986.85" font-size="13.23" font-weight="bold" textLength="9.36" lengthAdjust="spacingAndGlyphs" fill="#000" stroke="#000" stroke-width="1.1" >A</text>
<text x="15.58" y="998.85" font-size="13.23" font-weight="bold" textLength="9.02" lengthAdjust="spacingAndGlyphs" fill="#000" stroke="#000" stroke-width="1.1" >T</text>
<text x="15.20" y="1010.72" font-size="12.85" font-weight="bold" textLength="9.61" lengthAdjust="spacingAndGlyphs" fill="#000" stroke="#000" stroke-width="1.1" >C</text>
<text x="14.76" y="1022.85" font-size="13.23" font-weight="bold" textLength="10.69" lengthAdjust="spacingAndGlyphs" fill="#000" stroke="#000" stroke-width="1.1" >H</text>
<text x="15.58" y="1045.65" font-size="13.23" font-weight="bold" textLength="9.02" lengthAdjust="spacingAndGlyphs" fill="#000" stroke="#000" stroke-width="1.1" >T</text>
<text x="15.24" y="1057.32" font-size="12.85" font-weight="bold" textLength="9.74" lengthAdjust="spacingAndGlyphs" fill="#000" stroke="#000" stroke-width="1.1" >O</text>
<text x="14.76" y="1069.25" font-size="13.23" font-weight="bold" textLength="10.69" lengthAdjust="spacingAndGlyphs" fill="#000" stroke="#000" stroke-width="1.1" >N</text>
<text x="15.33" y="1080.92" font-size="12.85" font-weight="bold" textLength="9.69" lengthAdjust="spacingAndGlyphs" fill="#000" stroke="#000" stroke-width="1.1" >S</text>
<line x1="579.0" y1="1101.35" x2="971.5" y2="1101.35" stroke="#111" stroke-width="1.3" stroke-dasharray="1.5 3.0 4 5.0 10 5.0 2.5 3.5 2 3.5 2.5 3.0 2.5 5.0 1.5 3.0 2.5 2.5 8 10.0 3 10.0 4 7.0 1.5 4.0 2 2.5 2 3.5 2.5 10.0 2 5.0 4 10.0 10 5.0 3 4.0 5 5.0 3 4.0 4 5.0 4 7.0 5 5.0 2 7.0 8 3.0 1.5 4.0 2.5 4.0 3 4.0 3 5.0 2.5 7.0 5 4.0 5 3.0 3 3.5 10 3.0 6 7.0 8 3.5 5 3.5 6 3.5 8 27.1 2.5 4.0 4 10.0 3 7.0 3 3.5 4 7.0 2 5.0 1.5 3.0 10 4.0 4 2.5 1.5 10.0 3 2.5 2.5 3.5 3 13.7 2 3.0 5 2.5 5 3.5 8 10.0 1.5 2.5 4 2.5"/>
<line x1="579.0" y1="1048.20" x2="971.5" y2="1048.20" stroke="#111" stroke-width="1.3" stroke-dasharray="1.5 7.0 2.5 10.0 5 3.5 2.5 3.0 10 10.0 2.5 10.0 6 3.5 3 3.5 8 2.5 2.5 3.0 8 10.0 3 5.0 8 5.0 1.5 3.0 3 2.5 8 3.0 10 4.0 5 7.0 3 24.7 3 7.0 8 5.0 2.5 3.0 4 3.0 3 4.0 4 4.0 4 2.5 5 2.5 5 5.0 2.5 7.0 8 2.5 2 10.0 10 10.0 8 5.0 2 2.5 6 4.0 4 10.0 3 4.0 8 7.0 5 5.0 5 5.0 8 2.5 4 27.7 10 3.0 1.5 3.5 5 4.0 2.5 4.0 1.5 2.5 2.5 5.0 2 3.5 10 5.0 2.5 3.0 6 7.0 2 3.0 10 2.5 6 4.0 2.5 5.0 8 4.0 2.5 7.0 8 2.5 10 3.5"/>
<line x1="579.0" y1="995.05" x2="971.5" y2="995.05" stroke="#111" stroke-width="1.3" stroke-dasharray="1.5 3.5 2.5 10.0 5 3.0 5 7.0 6 2.5 3 5.0 4 15.6 5 3.0 4 3.5 5 4.0 2 23.1 3 10.0 1.5 7.0 2.5 10.0 10 7.0 6 10.0 3 5.0 1.5 3.5 2.5 10.0 2.5 10.0 10 7.0 10 4.0 8 10.0 3 7.0 3 2.5 5 2.5 1.5 3.0 2 4.0 3 10.0 6 3.5 6 3.5 8 3.5 4 7.0 2 5.0 10 2.5 6 2.5 3 3.0 10 3.5 2 7.0 1.5 4.0 6 2.5 6 2.5 4 10.0 5 2.5 1.5 3.0 6 3.0 2 4.0 4 3.5 2.5 4.0 10 2.5 2.5 5.0 10 10.0 1.5 7.0 2 10.0 1.5 2.5 1.5 5.0 3 5.0 2.5 5.0 2.5 7.0 1.5 4.0"/>
<line x1="579.0" y1="941.90" x2="971.5" y2="941.90" stroke="#111" stroke-width="1.3" stroke-dasharray="4 5.0 6 3.0 8 2.5 1.5 10.0 2.5 7.0 10 3.5 2.5 3.0 3 5.0 2 7.0 3 3.5 6 5.0 1.5 4.0 2 10.0 6 3.0 2.5 7.0 10 3.5 3 3.0 6 3.5 4 3.5 3 4.0 3 5.0 10 3.5 8 10.0 8 4.0 8 5.0 10 3.0 3 2.5 6 2.5 5 7.0 5 7.0 6 7.0 10 2.5 8 3.5 6 4.0 2.5 5.0 1.5 7.0 5 7.0 5 5.0 3 3.5 2.5 5.0 2.5 3.5 1.5 5.0 8 4.0 5 5.0 5 5.0 5 7.0 2 3.5 4 2.5 6 2.5 10 2.5 5 3.5 2.5 7.0 2 3.0 2.5 3.0 3 2.5 2 7.0 2 3.0 2 10.0 6 10.0 8 10.0"/>
<rect x="584.50" y="1132.50" width="33.50" height="22.00" fill="#fff"/>
<rect x="584.50" y="1132.50" width="33.50" height="3.75" fill="url(#sparse)"/>
<rect x="584.50" y="1136.25" width="33.50" height="18.25" fill="url(#dark)"/>
<rect x="585.60" y="1133.80" width="31.30" height="20.70" fill="none" stroke="#000" stroke-width="2.3"/>
<rect x="633.75" y="1105.75" width="33.25" height="48.75" fill="#fff"/>
<rect x="633.75" y="1105.75" width="33.25" height="38.50" fill="url(#sparse)"/>
<rect x="633.75" y="1144.25" width="33.25" height="10.25" fill="url(#dark)"/>
<rect x="634.85" y="1107.05" width="31.05" height="47.45" fill="none" stroke="#000" stroke-width="2.3"/>
<rect x="682.50" y="1127.50" width="33.75" height="27.00" fill="#fff"/>
<rect x="682.50" y="1127.50" width="33.75" height="24.50" fill="url(#sparse)"/>
<rect x="682.50" y="1152.00" width="33.75" height="2.50" fill="url(#dark)"/>
<rect x="683.60" y="1128.80" width="31.55" height="25.70" fill="none" stroke="#000" stroke-width="2.3"/>
<rect x="732.50" y="900.00" width="33.50" height="254.50" fill="#fff"/>
<rect x="732.50" y="900.00" width="33.50" height="210.50" fill="url(#dense)"/>
<rect x="732.50" y="1110.50" width="33.50" height="44.00" fill="url(#dark)"/>
<rect x="733.60" y="901.30" width="31.30" height="253.20" fill="none" stroke="#000" stroke-width="2.3"/>
<rect x="781.50" y="983.25" width="34.00" height="171.25" fill="#fff"/>
<rect x="781.50" y="983.25" width="34.00" height="114.75" fill="url(#medium)"/>
<rect x="781.50" y="1098.00" width="34.00" height="56.50" fill="url(#dark)"/>
<rect x="782.60" y="984.55" width="31.80" height="169.95" fill="none" stroke="#000" stroke-width="2.3"/>
<rect x="831.25" y="1077.50" width="33.75" height="77.00" fill="#fff"/>
<rect x="831.25" y="1077.50" width="33.75" height="37.50" fill="url(#sparse)"/>
<rect x="831.25" y="1115.00" width="33.75" height="39.50" fill="url(#dark)"/>
<rect x="832.35" y="1078.80" width="31.55" height="75.70" fill="none" stroke="#000" stroke-width="2.3"/>
<rect x="880.00" y="1102.00" width="35.00" height="52.50" fill="#fff"/>
<rect x="880.00" y="1102.00" width="35.00" height="45.00" fill="url(#sparse)"/>
<rect x="880.00" y="1147.00" width="35.00" height="7.50" fill="url(#dark)"/>
<rect x="881.10" y="1103.30" width="32.80" height="51.20" fill="none" stroke="#000" stroke-width="2.3"/>
<rect x="930.50" y="1116.25" width="34.00" height="38.25" fill="#fff"/>
<rect x="930.50" y="1116.25" width="34.00" height="35.75" fill="url(#sparse)"/>
<rect x="930.50" y="1152.00" width="34.00" height="2.50" fill="url(#dark)"/>
<rect x="931.60" y="1117.55" width="31.80" height="36.95" fill="none" stroke="#000" stroke-width="2.3"/>
<rect x="577.00" y="888.75" width="395.50" height="265.75" fill="none" stroke="#000" stroke-width="2"/>
<line x1="571.00" y1="1154.50" x2="973.50" y2="1154.50" stroke="#000" stroke-width="2.6"/>
<line x1="571.00" y1="888.75" x2="973.50" y2="888.75" stroke="#000" stroke-width="2.6"/>
<line x1="571.00" y1="1154.50" x2="577.00" y2="1154.50" stroke="#000" stroke-width="2"/>
<text x="560.12" y="1160.02" font-size="13.14" font-weight="bold" textLength="8.19" lengthAdjust="spacingAndGlyphs" fill="#000" stroke="#000" stroke-width="1.1" >0</text>
<line x1="571.00" y1="1101.35" x2="577.00" y2="1101.35" stroke="#000" stroke-width="2"/>
<text x="552.10" y="1106.87" font-size="13.14" font-weight="bold" textLength="16.20" lengthAdjust="spacingAndGlyphs" fill="#000" stroke="#000" stroke-width="1.1" >20</text>
<line x1="571.00" y1="1048.20" x2="577.00" y2="1048.20" stroke="#000" stroke-width="2"/>
<text x="552.38" y="1053.72" font-size="13.14" font-weight="bold" textLength="15.90" lengthAdjust="spacingAndGlyphs" fill="#000" stroke="#000" stroke-width="1.1" >40</text>
<line x1="571.00" y1="995.05" x2="577.00" y2="995.05" stroke="#000" stroke-width="2"/>
<text x="552.07" y="1000.57" font-size="13.14" font-weight="bold" textLength="16.23" lengthAdjust="spacingAndGlyphs" fill="#000" stroke="#000" stroke-width="1.1" >60</text>
<line x1="571.00" y1="941.90" x2="577.00" y2="941.90" stroke="#000" stroke-width="2"/>
<text x="552.14" y="947.42" font-size="13.14" font-weight="bold" textLength="16.16" lengthAdjust="spacingAndGlyphs" fill="#000" stroke="#000" stroke-width="1.1" >80</text>
<line x1="571.00" y1="888.75" x2="577.00" y2="888.75" stroke="#000" stroke-width="2"/>
<path d="M550.17,884.68 L553.07,884.68 L553.07,894.82 L550.17,894.82 L550.17,888.94 L547.28,889.14 L547.28,887.12 Z" fill="#000"/>
<text x="552.91" y="894.27" font-size="13.14" font-weight="bold" textLength="7.68" lengthAdjust="spacingAndGlyphs" fill="#000" stroke="#000" stroke-width="1.1">0</text>
<text x="560.59" y="894.27" font-size="13.14" font-weight="bold" textLength="7.68" lengthAdjust="spacingAndGlyphs" fill="#000" stroke="#000" stroke-width="1.1">0</text>
<line x1="601.25" y1="1154.50" x2="601.25" y2="1159.50" stroke="#000" stroke-width="1.6"/>
<path d="M601.79,1166.30 L603.75,1166.30 L603.75,1176.20 L601.79,1176.20 L601.79,1170.46 L599.82,1170.66 L599.82,1168.68 Z" fill="#000"/>
<line x1="650.38" y1="1154.50" x2="650.38" y2="1159.50" stroke="#000" stroke-width="1.6"/>
<text x="646.76" y="1175.58" font-size="12.57" font-weight="bold" textLength="7.21" lengthAdjust="spacingAndGlyphs" fill="#000" stroke="#000" stroke-width="1.0" >8</text>
<line x1="699.38" y1="1154.50" x2="699.38" y2="1159.50" stroke="#000" stroke-width="1.6"/>
<text x="695.71" y="1175.70" font-size="12.75" font-weight="bold" textLength="7.39" lengthAdjust="spacingAndGlyphs" fill="#000" stroke="#000" stroke-width="1.0" >2</text>
<line x1="749.25" y1="1154.50" x2="749.25" y2="1159.50" stroke="#000" stroke-width="1.6"/>
<text x="745.87" y="1175.70" font-size="12.94" font-weight="bold" textLength="6.65" lengthAdjust="spacingAndGlyphs" fill="#000" stroke="#000" stroke-width="1.0" >4</text>
<line x1="798.50" y1="1154.50" x2="798.50" y2="1159.50" stroke="#000" stroke-width="1.6"/>
<text x="794.90" y="1175.58" font-size="12.76" font-weight="bold" textLength="7.15" lengthAdjust="spacingAndGlyphs" fill="#000" stroke="#000" stroke-width="1.0" >5</text>
<line x1="848.12" y1="1154.50" x2="848.12" y2="1159.50" stroke="#000" stroke-width="1.6"/>
<text x="844.44" y="1175.58" font-size="12.57" font-weight="bold" textLength="7.36" lengthAdjust="spacingAndGlyphs" fill="#000" stroke="#000" stroke-width="1.0" >6</text>
<line x1="897.50" y1="1154.50" x2="897.50" y2="1159.50" stroke="#000" stroke-width="1.6"/>
<text x="893.71" y="1175.70" font-size="12.94" font-weight="bold" textLength="7.59" lengthAdjust="spacingAndGlyphs" fill="#000" stroke="#000" stroke-width="1.0" >7</text>
<line x1="947.50" y1="1154.50" x2="947.50" y2="1159.50" stroke="#000" stroke-width="1.6"/>
<path d="M944.91,1166.43 L947.49,1166.43 L947.49,1176.06 L944.91,1176.06 L944.91,1170.47 L942.33,1170.67 L942.33,1168.74 Z" fill="#000"/>
<text x="947.34" y="1175.56" font-size="12.54" font-weight="bold" textLength="6.81" lengthAdjust="spacingAndGlyphs" fill="#000" stroke="#000" stroke-width="1.0">3</text>
<path d="M757.70,835.00 L761.40,835.00 L761.40,851.50 L757.70,851.50 L757.70,841.93 L754.00,842.26 L754.00,838.96 Z" fill="#000"/>
<text x="763.52" y="850.98" font-size="22.46" font-weight="bold" textLength="10.40" lengthAdjust="spacingAndGlyphs" fill="#000" stroke="#000" stroke-width="0.6">9</text>
<text x="773.92" y="850.98" font-size="22.46" font-weight="bold" textLength="10.40" lengthAdjust="spacingAndGlyphs" fill="#000" stroke="#000" stroke-width="0.6">9</text>
<path d="M790.79,835.00 L794.49,835.00 L794.49,851.50 L790.79,851.50 L790.79,841.93 L787.09,842.26 L787.09,838.96 Z" fill="#000"/>
<text x="577.83" y="882.12" font-size="10.51" font-weight="bold" textLength="4.48" lengthAdjust="spacingAndGlyphs" fill="#000" stroke="#000" stroke-width="1.0" >(</text>
<text x="587.90" y="883.80" font-size="13.08" font-weight="bold" textLength="7.39" lengthAdjust="spacingAndGlyphs" fill="#000" stroke="#000" stroke-width="1.6" >X</text>
<path d="M605.82,874.14 L608.78,874.14 L608.78,885.06 L605.82,885.06 L605.82,878.73 L602.86,878.95 L602.86,876.76 Z" fill="#000"/>
<text x="608.46" y="884.36" font-size="13.84" font-weight="bold" textLength="7.40" lengthAdjust="spacingAndGlyphs" fill="#000" stroke="#000" stroke-width="1.4">0</text>
<text x="615.85" y="884.36" font-size="13.84" font-weight="bold" textLength="7.40" lengthAdjust="spacingAndGlyphs" fill="#000" stroke="#000" stroke-width="1.4">0</text>
<text x="623.25" y="884.36" font-size="13.84" font-weight="bold" textLength="7.40" lengthAdjust="spacingAndGlyphs" fill="#000" stroke="#000" stroke-width="1.4">0</text>
<text x="635.69" y="882.27" font-size="10.73" font-weight="bold" textLength="4.48" lengthAdjust="spacingAndGlyphs" fill="#000" stroke="#000" stroke-width="1.0" >)</text>
<text x="524.29" y="1207.30" font-size="20.15" font-weight="bold" textLength="7.96" lengthAdjust="spacingAndGlyphs" fill="#000" stroke="#000" stroke-width="1.4" >f</text>
<text x="751.35" y="1192.23" font-size="12.57" font-weight="bold" textLength="42.48" lengthAdjust="spacingAndGlyphs" fill="#000" stroke="#000" stroke-width="1.3" >AREAS</text>
<text x="521.99" y="975.52" font-size="12.85" font-weight="bold" textLength="9.83" lengthAdjust="spacingAndGlyphs" fill="#000" stroke="#000" stroke-width="1.1" >C</text>
<text x="522.22" y="987.40" font-size="13.23" font-weight="bold" textLength="9.58" lengthAdjust="spacingAndGlyphs" fill="#000" stroke="#000" stroke-width="1.1" >A</text>
<text x="522.38" y="999.15" font-size="13.23" font-weight="bold" textLength="9.23" lengthAdjust="spacingAndGlyphs" fill="#000" stroke="#000" stroke-width="1.1" >T</text>
<text x="521.99" y="1010.77" font-size="12.85" font-weight="bold" textLength="9.83" lengthAdjust="spacingAndGlyphs" fill="#000" stroke="#000" stroke-width="1.1" >C</text>
<text x="521.54" y="1022.65" font-size="13.23" font-weight="bold" textLength="10.93" lengthAdjust="spacingAndGlyphs" fill="#000" stroke="#000" stroke-width="1.1" >H</text>
<text x="522.38" y="1045.65" font-size="13.23" font-weight="bold" textLength="9.23" lengthAdjust="spacingAndGlyphs" fill="#000" stroke="#000" stroke-width="1.1" >T</text>
<text x="522.02" y="1057.32" font-size="12.85" font-weight="bold" textLength="9.96" lengthAdjust="spacingAndGlyphs" fill="#000" stroke="#000" stroke-width="1.1" >O</text>
<text x="521.54" y="1069.25" font-size="13.23" font-weight="bold" textLength="10.93" lengthAdjust="spacingAndGlyphs" fill="#000" stroke="#000" stroke-width="1.1" >N</text>
<text x="522.12" y="1080.92" font-size="12.85" font-weight="bold" textLength="9.91" lengthAdjust="spacingAndGlyphs" fill="#000" stroke="#000" stroke-width="1.1" >S</text>
<line x1="315.2" y1="1535.89" x2="734.5" y2="1535.89" stroke="#111" stroke-width="1.2" stroke-dasharray="6 3.0 2.5 6.0 4 3.0 2.5 17.9 2.5 3.0 2 3.6 5 8.4 3 4.2 6 4.2 4 4.8 1.5 8.4 2.5 3.6 2.5 12.0 1.5 4.8 1.5 12.0 1.5 4.8 1.5 6.0 6 6.0 1.5 12.0 2.5 4.8 6 3.6 1.5 6.0 10 3.0 5 4.8 3 6.0 6 4.2 2.5 4.2 3 4.2 3 12.0 1.5 6.0 5 8.4 4 12.0 2.5 6.0 8 4.2 2 4.8 1.5 3.6 2 6.0 4 6.0 1.5 3.0 2.5 3.0 2 6.0 8 8.4 2 8.4 5 25.5 4 3.6 4 4.2 3 6.0 10 4.8 4 4.8 5 4.8 8 25.5 4 3.0 10 8.4 2.5 4.2 6 12.0 10 3.0 1.5 3.0 1.5 3.6 8 8.4 4 4.2"/>
<line x1="315.2" y1="1505.28" x2="734.5" y2="1505.28" stroke="#111" stroke-width="1.2" stroke-dasharray="2.5 3.6 2 8.4 10 4.2 2.5 3.6 3 4.2 1.5 3.6 4 12.0 6 6.0 8 3.6 8 12.0 1.5 8.4 8 4.8 3 4.2 2 6.0 2.5 3.6 8 4.8 5 3.0 5 3.6 2 4.2 2 3.6 4 4.2 10 3.6 1.5 4.2 2 4.2 5 6.0 5 4.8 3 6.0 2.5 4.2 3 4.2 3 8.4 2 23.1 3 6.0 2 12.0 2 8.4 2 3.6 1.5 4.2 6 3.0 5 6.0 10 4.8 10 12.0 3 3.6 3 3.0 2 4.2 10 4.2 6 4.8 1.5 3.0 6 3.0 4 6.0 5 12.0 1.5 3.0 10 8.4 5 8.4 2.5 4.2 5 4.2 2.5 3.6 2 6.0 2 3.6 2 6.0 8 6.0 1.5 3.6"/>
<line x1="315.2" y1="1474.67" x2="734.5" y2="1474.67" stroke="#111" stroke-width="1.2" stroke-dasharray="3 35.4 5 3.6 8 6.0 5 4.8 3 8.4 1.5 4.8 3 3.0 2.5 3.6 2 12.0 2 4.2 6 12.0 10 12.0 3 8.4 4 4.8 2 8.4 2.5 17.8 2.5 12.0 1.5 4.2 5 3.0 3 6.0 3 8.4 4 8.4 3 18.1 6 3.0 2 6.0 5 4.2 5 19.8 6 3.0 2 3.0 4 8.4 10 8.4 3 3.0 8 6.0 4 3.0 8 3.6 8 4.8 1.5 8.4 1.5 12.0 2 3.0 3 3.0 4 4.2 5 4.8 4 3.6 8 15.0 6 12.0 2.5 8.4 2 3.0 2 8.4 2.5 3.0 2 12.0 5 12.0 10 12.0 8 8.4 10 3.6 3 4.8 2.5 4.2 10 6.0 4 8.4 10 3.0 2.5 3.0"/>
<line x1="315.2" y1="1444.06" x2="734.5" y2="1444.06" stroke="#111" stroke-width="1.2" stroke-dasharray="4 3.0 8 12.0 8 3.6 10 6.0 4 4.2 1.5 12.0 5 8.4 8 12.0 4 4.8 5 8.4 3 12.0 4 8.4 1.5 4.2 5 4.2 6 6.0 4 12.0 5 4.2 2.5 4.8 3 4.2 1.5 8.4 5 12.0 8 4.2 5 3.6 2.5 8.4 4 3.0 3 16.8 1.5 4.8 2.5 12.0 10 3.0 4 4.8 4 3.0 2.5 4.8 5 3.0 5 3.6 3 23.7 3 4.2 3 3.6 5 17.9 2 6.0 3 3.6 6 17.6 5 4.8 6 3.6 3 4.8 10 12.0 4 4.2 8 4.8 1.5 8.4 3 6.0 8 6.0 2.5 12.0 4 12.0 8 3.0 3 19.8 2 3.6 6 4.8 4 8.4 5 8.4 10 6.0 5 4.2"/>
<line x1="315.2" y1="1413.44" x2="734.5" y2="1413.44" stroke="#111" stroke-width="1.2" stroke-dasharray="3 3.6 5 12.0 10 6.0 2 6.0 5 12.0 10 8.4 5 8.4 5 3.6 5 3.6 2.5 8.4 10 4.8 4 3.6 8 3.6 5 12.0 1.5 4.8 5 8.4 1.5 4.8 3 6.0 2.5 8.4 10 3.6 2.5 8.4 5 4.2 2.5 8.4 2 3.6 4 8.4 3 8.4 5 6.0 5 4.8 2.5 12.0 2 3.0 1.5 6.0 10 8.4 2 3.6 10 26.4 8 3.0 8 6.0 2.5 3.6 5 21.0 2 23.8 1.5 3.6 4 4.2 2 12.0 8 6.0 4 6.0 1.5 8.4 4 3.0 10 4.8 2.5 4.8 8 4.8 8 12.0 3 4.2 10 3.6 4 16.2 8 12.0 10 4.2 1.5 6.0 5 4.8 5 4.8 6 3.6 2.5 4.8"/>
<line x1="315.2" y1="1382.83" x2="734.5" y2="1382.83" stroke="#111" stroke-width="1.2" stroke-dasharray="8 6.0 3 8.4 5 6.0 2 4.2 2 4.8 3 4.2 1.5 12.0 4 12.0 10 6.0 2.5 8.4 4 8.4 6 12.0 6 3.6 2.5 4.8 2.5 4.2 6 4.8 2 3.6 3 3.6 10 3.6 10 4.8 1.5 12.0 1.5 12.0 2 6.0 4 8.4 3 6.0 5 4.2 2 8.4 4 3.6 2 3.0 1.5 3.6 2 4.2 2 4.2 4 3.0 8 3.6 6 3.0 1.5 3.0 2 4.8 1.5 3.6 1.5 4.2 6 8.4 6 3.6 2 6.0 10 8.4 6 6.0 8 4.2 6 12.0 1.5 6.0 3 6.0 2 3.0 6 22.4 2.5 12.0 2.5 12.0 3 3.6 1.5 8.4 6 4.8 10 6.0 2 3.6 2 18.6 10 8.4 2 3.0"/>
<line x1="315.2" y1="1352.22" x2="734.5" y2="1352.22" stroke="#111" stroke-width="1.2" stroke-dasharray="2 25.1 5 8.4 6 8.4 6 3.0 8 4.2 8 4.8 3 4.8 5 4.8 6 4.8 10 4.2 1.5 8.4 3 3.6 4 4.2 10 3.6 4 12.0 10 3.0 1.5 6.0 4 6.0 2 3.0 2 4.8 1.5 12.0 2.5 12.0 1.5 3.0 3 8.4 2 6.0 10 3.0 6 4.8 3 4.2 1.5 6.0 2 6.0 6 4.2 2 3.0 3 6.0 4 8.4 2.5 6.0 4 4.8 4 6.0 10 3.0 10 4.8 5 3.0 10 4.2 5 3.6 10 4.2 3 4.8 4 12.0 3 3.6 2.5 12.0 1.5 3.0 2.5 4.2 3 4.8 2 4.2 2 3.6 10 8.4 3 4.8 6 3.6 10 8.4 4 4.8 6 6.0 6 3.6 5 6.0"/>
<line x1="315.2" y1="1321.61" x2="734.5" y2="1321.61" stroke="#111" stroke-width="1.2" stroke-dasharray="2 3.6 2 8.4 2.5 12.0 4 12.0 5 4.2 2.5 12.0 2.5 3.6 10 3.6 2 6.0 10 3.6 5 12.0 2 4.2 1.5 4.8 8 3.0 6 36.4 3 4.8 1.5 6.0 6 6.0 2 3.6 3 3.0 1.5 12.0 1.5 8.4 8 6.0 6 3.6 8 4.2 2.5 3.6 5 6.0 3 12.0 5 3.0 5 6.0 5 4.2 4 8.4 6 12.0 8 4.8 5 3.0 2.5 12.0 2.5 3.6 8 8.4 5 8.4 1.5 8.4 1.5 3.6 2 28.1 6 6.0 6 3.6 1.5 6.0 5 4.2 6 4.8 10 3.0 6 3.6 1.5 3.0 1.5 12.0 8 8.4 5 12.0 6 6.0 6 8.4 2 4.8 6 3.0 6 8.4 6 12.0 1.5 3.0"/>
<rect x="321.25" y="1533.25" width="37.50" height="33.25" fill="#fff"/>
<rect x="321.25" y="1533.25" width="37.50" height="19.25" fill="url(#sparse)"/>
<rect x="321.25" y="1552.50" width="37.50" height="14.00" fill="url(#dark)"/>
<rect x="322.35" y="1534.55" width="35.30" height="31.95" fill="none" stroke="#000" stroke-width="2.3"/>
<rect x="374.25" y="1475.50" width="37.00" height="91.00" fill="#fff"/>
<rect x="374.25" y="1475.50" width="37.00" height="37.00" fill="url(#sparse)"/>
<rect x="374.25" y="1512.50" width="37.00" height="54.00" fill="url(#dark)"/>
<rect x="375.35" y="1476.80" width="34.80" height="89.70" fill="none" stroke="#000" stroke-width="2.3"/>
<rect x="428.00" y="1531.25" width="35.75" height="35.25" fill="#fff"/>
<rect x="428.00" y="1531.25" width="35.75" height="29.50" fill="url(#sparse)"/>
<rect x="428.00" y="1560.75" width="35.75" height="5.75" fill="url(#dark)"/>
<rect x="429.10" y="1532.55" width="33.55" height="33.95" fill="none" stroke="#000" stroke-width="2.3"/>
<rect x="480.00" y="1321.75" width="36.20" height="244.75" fill="#fff"/>
<rect x="480.00" y="1321.75" width="36.20" height="197.50" fill="url(#dense)"/>
<rect x="480.00" y="1519.25" width="36.20" height="47.25" fill="url(#dark)"/>
<rect x="481.10" y="1323.05" width="34.00" height="243.45" fill="none" stroke="#000" stroke-width="2.3"/>
<rect x="532.50" y="1342.20" width="36.25" height="224.30" fill="#fff"/>
<rect x="532.50" y="1342.20" width="36.25" height="172.60" fill="url(#medium)"/>
<rect x="532.50" y="1514.80" width="36.25" height="51.70" fill="url(#dark)"/>
<rect x="533.60" y="1343.50" width="34.05" height="223.00" fill="none" stroke="#000" stroke-width="2.3"/>
<rect x="585.30" y="1495.30" width="37.00" height="71.20" fill="#fff"/>
<rect x="585.30" y="1495.30" width="37.00" height="23.10" fill="url(#sparse)"/>
<rect x="585.30" y="1518.40" width="37.00" height="48.10" fill="url(#dark)"/>
<rect x="586.40" y="1496.60" width="34.80" height="69.90" fill="none" stroke="#000" stroke-width="2.3"/>
<rect x="638.50" y="1526.50" width="36.50" height="40.00" fill="#fff"/>
<rect x="638.50" y="1526.50" width="36.50" height="25.10" fill="url(#sparse)"/>
<rect x="638.50" y="1551.60" width="36.50" height="14.90" fill="url(#dark)"/>
<rect x="639.60" y="1527.80" width="34.30" height="38.70" fill="none" stroke="#000" stroke-width="2.3"/>
<rect x="691.40" y="1510.80" width="36.40" height="55.70" fill="#fff"/>
<rect x="691.40" y="1510.80" width="36.40" height="38.70" fill="url(#sparse)"/>
<rect x="691.40" y="1549.50" width="36.40" height="17.00" fill="url(#dark)"/>
<rect x="692.50" y="1512.10" width="34.20" height="54.40" fill="none" stroke="#000" stroke-width="2.3"/>
<rect x="313.25" y="1291.00" width="422.25" height="275.50" fill="none" stroke="#000" stroke-width="2"/>
<line x1="307.25" y1="1566.50" x2="736.50" y2="1566.50" stroke="#000" stroke-width="2.6"/>
<line x1="307.25" y1="1291.00" x2="736.50" y2="1291.00" stroke="#000" stroke-width="2.6"/>
<line x1="307.25" y1="1566.50" x2="313.25" y2="1566.50" stroke="#000" stroke-width="2"/>
<text x="294.92" y="1572.02" font-size="13.14" font-weight="bold" textLength="8.19" lengthAdjust="spacingAndGlyphs" fill="#000" stroke="#000" stroke-width="1.1" >0</text>
<line x1="307.25" y1="1535.89" x2="313.25" y2="1535.89" stroke="#000" stroke-width="2"/>
<path d="M292.95,1531.82 L295.78,1531.82 L295.78,1541.96 L292.95,1541.96 L292.95,1536.08 L290.12,1536.28 L290.12,1534.26 Z" fill="#000"/>
<text x="295.60" y="1541.41" font-size="13.14" font-weight="bold" textLength="7.45" lengthAdjust="spacingAndGlyphs" fill="#000" stroke="#000" stroke-width="1.1">0</text>
<line x1="307.25" y1="1505.28" x2="313.25" y2="1505.28" stroke="#000" stroke-width="2"/>
<text x="286.90" y="1510.80" font-size="13.14" font-weight="bold" textLength="16.20" lengthAdjust="spacingAndGlyphs" fill="#000" stroke="#000" stroke-width="1.1" >20</text>
<line x1="307.25" y1="1474.67" x2="313.25" y2="1474.67" stroke="#000" stroke-width="2"/>
<text x="287.07" y="1480.17" font-size="13.11" font-weight="bold" textLength="16.02" lengthAdjust="spacingAndGlyphs" fill="#000" stroke="#000" stroke-width="1.1" >30</text>
<line x1="307.25" y1="1444.06" x2="313.25" y2="1444.06" stroke="#000" stroke-width="2"/>
<text x="287.18" y="1449.58" font-size="13.14" font-weight="bold" textLength="15.90" lengthAdjust="spacingAndGlyphs" fill="#000" stroke="#000" stroke-width="1.1" >40</text>
<line x1="307.25" y1="1413.44" x2="313.25" y2="1413.44" stroke="#000" stroke-width="2"/>
<text x="286.95" y="1418.97" font-size="13.14" font-weight="bold" textLength="16.14" lengthAdjust="spacingAndGlyphs" fill="#000" stroke="#000" stroke-width="1.1" >50</text>
<line x1="307.25" y1="1382.83" x2="313.25" y2="1382.83" stroke="#000" stroke-width="2"/>
<text x="286.87" y="1388.36" font-size="13.14" font-weight="bold" textLength="16.23" lengthAdjust="spacingAndGlyphs" fill="#000" stroke="#000" stroke-width="1.1" >60</text>
<line x1="307.25" y1="1352.22" x2="313.25" y2="1352.22" stroke="#000" stroke-width="2"/>
<text x="286.77" y="1357.74" font-size="13.14" font-weight="bold" textLength="16.33" lengthAdjust="spacingAndGlyphs" fill="#000" stroke="#000" stroke-width="1.1" >70</text>
<line x1="307.25" y1="1321.61" x2="313.25" y2="1321.61" stroke="#000" stroke-width="2"/>
<text x="286.94" y="1327.13" font-size="13.14" font-weight="bold" textLength="16.16" lengthAdjust="spacingAndGlyphs" fill="#000" stroke="#000" stroke-width="1.1" >80</text>
<line x1="307.25" y1="1291.00" x2="313.25" y2="1291.00" stroke="#000" stroke-width="2"/>
<text x="286.90" y="1296.52" font-size="13.14" font-weight="bold" textLength="16.20" lengthAdjust="spacingAndGlyphs" fill="#000" stroke="#000" stroke-width="1.1" >90</text>
<line x1="340.00" y1="1566.50" x2="340.00" y2="1571.50" stroke="#000" stroke-width="1.6"/>
<path d="M340.54,1578.00 L342.50,1578.00 L342.50,1588.80 L340.54,1588.80 L340.54,1582.54 L338.57,1582.75 L338.57,1580.59 Z" fill="#000"/>
<line x1="392.75" y1="1566.50" x2="392.75" y2="1571.50" stroke="#000" stroke-width="1.6"/>
<text x="389.14" y="1588.16" font-size="13.84" font-weight="bold" textLength="7.21" lengthAdjust="spacingAndGlyphs" fill="#000" stroke="#000" stroke-width="1.0" >8</text>
<line x1="445.88" y1="1566.50" x2="445.88" y2="1571.50" stroke="#000" stroke-width="1.6"/>
<text x="442.21" y="1588.30" font-size="14.04" font-weight="bold" textLength="7.39" lengthAdjust="spacingAndGlyphs" fill="#000" stroke="#000" stroke-width="1.0" >2</text>
<line x1="498.10" y1="1566.50" x2="498.10" y2="1571.50" stroke="#000" stroke-width="1.6"/>
<text x="494.72" y="1588.30" font-size="14.24" font-weight="bold" textLength="6.65" lengthAdjust="spacingAndGlyphs" fill="#000" stroke="#000" stroke-width="1.0" >4</text>
<line x1="550.62" y1="1566.50" x2="550.62" y2="1571.50" stroke="#000" stroke-width="1.6"/>
<text x="547.03" y="1588.16" font-size="14.05" font-weight="bold" textLength="7.15" lengthAdjust="spacingAndGlyphs" fill="#000" stroke="#000" stroke-width="1.0" >5</text>
<line x1="603.80" y1="1566.50" x2="603.80" y2="1571.50" stroke="#000" stroke-width="1.6"/>
<text x="600.12" y="1588.16" font-size="13.84" font-weight="bold" textLength="7.36" lengthAdjust="spacingAndGlyphs" fill="#000" stroke="#000" stroke-width="1.0" >6</text>
<line x1="656.75" y1="1566.50" x2="656.75" y2="1571.50" stroke="#000" stroke-width="1.6"/>
<text x="652.96" y="1588.30" font-size="14.24" font-weight="bold" textLength="7.59" lengthAdjust="spacingAndGlyphs" fill="#000" stroke="#000" stroke-width="1.0" >7</text>
<line x1="709.60" y1="1566.50" x2="709.60" y2="1571.50" stroke="#000" stroke-width="1.6"/>
<path d="M707.01,1578.14 L709.59,1578.14 L709.59,1588.64 L707.01,1588.64 L707.01,1582.55 L704.43,1582.76 L704.43,1580.66 Z" fill="#000"/>
<text x="709.44" y="1588.14" font-size="13.81" font-weight="bold" textLength="6.81" lengthAdjust="spacingAndGlyphs" fill="#000" stroke="#000" stroke-width="1.0">3</text>
<path d="M504.70,1235.00 L508.40,1235.00 L508.40,1252.00 L504.70,1252.00 L504.70,1242.14 L501.00,1242.48 L501.00,1239.08 Z" fill="#000"/>
<text x="512.09" y="1251.47" font-size="23.16" font-weight="bold" textLength="12.16" lengthAdjust="spacingAndGlyphs" fill="#000" stroke="#000" stroke-width="0.6">9</text>
<text x="524.25" y="1251.47" font-size="23.16" font-weight="bold" textLength="12.16" lengthAdjust="spacingAndGlyphs" fill="#000" stroke="#000" stroke-width="0.6">9</text>
<text x="536.41" y="1251.47" font-size="23.16" font-weight="bold" textLength="12.16" lengthAdjust="spacingAndGlyphs" fill="#000" stroke="#000" stroke-width="0.6">2</text>
<text x="310.83" y="1284.74" font-size="11.37" font-weight="bold" textLength="4.48" lengthAdjust="spacingAndGlyphs" fill="#000" stroke="#000" stroke-width="1.0" >(</text>
<text x="322.50" y="1286.00" font-size="11.92" font-weight="bold" textLength="7.81" lengthAdjust="spacingAndGlyphs" fill="#000" stroke="#000" stroke-width="1.6" >X</text>
<path d="M340.99,1277.13 L344.05,1277.13 L344.05,1287.08 L340.99,1287.08 L340.99,1281.31 L337.93,1281.51 L337.93,1279.52 Z" fill="#000"/>
<text x="343.74" y="1286.38" font-size="12.43" font-weight="bold" textLength="7.71" lengthAdjust="spacingAndGlyphs" fill="#000" stroke="#000" stroke-width="1.4">0</text>
<text x="351.45" y="1286.38" font-size="12.43" font-weight="bold" textLength="7.71" lengthAdjust="spacingAndGlyphs" fill="#000" stroke="#000" stroke-width="1.4">0</text>
<text x="359.16" y="1286.38" font-size="12.43" font-weight="bold" textLength="7.71" lengthAdjust="spacingAndGlyphs" fill="#000" stroke="#000" stroke-width="1.4">0</text>
<text x="373.49" y="1285.05" font-size="11.80" font-weight="bold" textLength="4.48" lengthAdjust="spacingAndGlyphs" fill="#000" stroke="#000" stroke-width="1.0" >)</text>
<text x="267.92" y="1619.90" font-size="20.79" font-weight="bold" textLength="11.66" lengthAdjust="spacingAndGlyphs" fill="#000" stroke="#000" stroke-width="1.4" >g</text>
<text x="503.34" y="1606.02" font-size="13.42" font-weight="bold" textLength="43.49" lengthAdjust="spacingAndGlyphs" fill="#000" stroke="#000" stroke-width="1.3" >AREAS</text>
<text x="264.00" y="1381.52" font-size="12.85" font-weight="bold" textLength="9.61" lengthAdjust="spacingAndGlyphs" fill="#000" stroke="#000" stroke-width="1.1" >C</text>
<text x="264.23" y="1393.70" font-size="13.23" font-weight="bold" textLength="9.36" lengthAdjust="spacingAndGlyphs" fill="#000" stroke="#000" stroke-width="1.1" >A</text>
<text x="264.38" y="1405.75" font-size="13.23" font-weight="bold" textLength="9.02" lengthAdjust="spacingAndGlyphs" fill="#000" stroke="#000" stroke-width="1.1" >T</text>
<text x="264.00" y="1417.67" font-size="12.85" font-weight="bold" textLength="9.61" lengthAdjust="spacingAndGlyphs" fill="#000" stroke="#000" stroke-width="1.1" >C</text>
<text x="263.56" y="1429.85" font-size="13.23" font-weight="bold" textLength="10.69" lengthAdjust="spacingAndGlyphs" fill="#000" stroke="#000" stroke-width="1.1" >H</text>
<text x="264.38" y="1453.75" font-size="13.23" font-weight="bold" textLength="9.02" lengthAdjust="spacingAndGlyphs" fill="#000" stroke="#000" stroke-width="1.1" >T</text>
<text x="264.04" y="1465.32" font-size="12.85" font-weight="bold" textLength="9.74" lengthAdjust="spacingAndGlyphs" fill="#000" stroke="#000" stroke-width="1.1" >O</text>
<text x="263.56" y="1477.15" font-size="13.23" font-weight="bold" textLength="10.69" lengthAdjust="spacingAndGlyphs" fill="#000" stroke="#000" stroke-width="1.1" >N</text>
<text x="264.13" y="1488.72" font-size="12.85" font-weight="bold" textLength="9.69" lengthAdjust="spacingAndGlyphs" fill="#000" stroke="#000" stroke-width="1.1" >S</text>
<rect x="104.2" y="1639" width="830.2" height="76.2" fill="none" stroke="#000" stroke-width="2.4"/>
<rect x="128.5" y="1663.2" width="52.5" height="27.8" fill="url(#dark)"/>
<rect x="542" y="1665.8" width="53.2" height="25.2" fill="#fff" stroke="#000" stroke-width="1.5"/>
<text x="193.93" y="1690.34" font-size="24.44" font-weight="normal" textLength="60.29" lengthAdjust="spacingAndGlyphs" fill="#000" stroke="#000" stroke-width="0.45" >TUNA</text>
<text x="268.21" y="1690.34" font-size="24.08" font-weight="normal" textLength="89.98" lengthAdjust="spacingAndGlyphs" fill="#000" stroke="#000" stroke-width="0.45" >LENGTH</text>
<text x="372.28" y="1691.78" font-size="26.68" font-weight="normal" textLength="15.93" lengthAdjust="spacingAndGlyphs" fill="#000" stroke="#000" stroke-width="0.45" >&lt;</text>
<text x="400.75" y="1691.43" font-size="24.65" font-weight="normal" textLength="30.19" lengthAdjust="spacingAndGlyphs" fill="#000" stroke="#000" stroke-width="0.45" >80</text>
<text x="443.46" y="1691.05" font-size="23.46" font-weight="normal" textLength="50.41" lengthAdjust="spacingAndGlyphs" fill="#000" stroke="#000" stroke-width="0.45" >cms</text>
<text x="607.72" y="1691.03" font-size="25.15" font-weight="normal" textLength="61.10" lengthAdjust="spacingAndGlyphs" fill="#000" stroke="#000" stroke-width="0.45" >TUNA</text>
<text x="681.41" y="1691.03" font-size="25.07" font-weight="normal" textLength="89.56" lengthAdjust="spacingAndGlyphs" fill="#000" stroke="#000" stroke-width="0.45" >LENGTH</text>
<text x="785.03" y="1692.28" font-size="26.54" font-weight="normal" textLength="18.92" lengthAdjust="spacingAndGlyphs" fill="#000" stroke="#000" stroke-width="0.45" >≥</text>
<text x="814.76" y="1691.04" font-size="24.08" font-weight="normal" textLength="29.76" lengthAdjust="spacingAndGlyphs" fill="#000" stroke="#000" stroke-width="0.45" >80</text>
<text x="858.16" y="1690.65" font-size="22.73" font-weight="normal" textLength="50.31" lengthAdjust="spacingAndGlyphs" fill="#000" stroke="#000" stroke-width="0.45" >cms</text>
</svg></body></html>
